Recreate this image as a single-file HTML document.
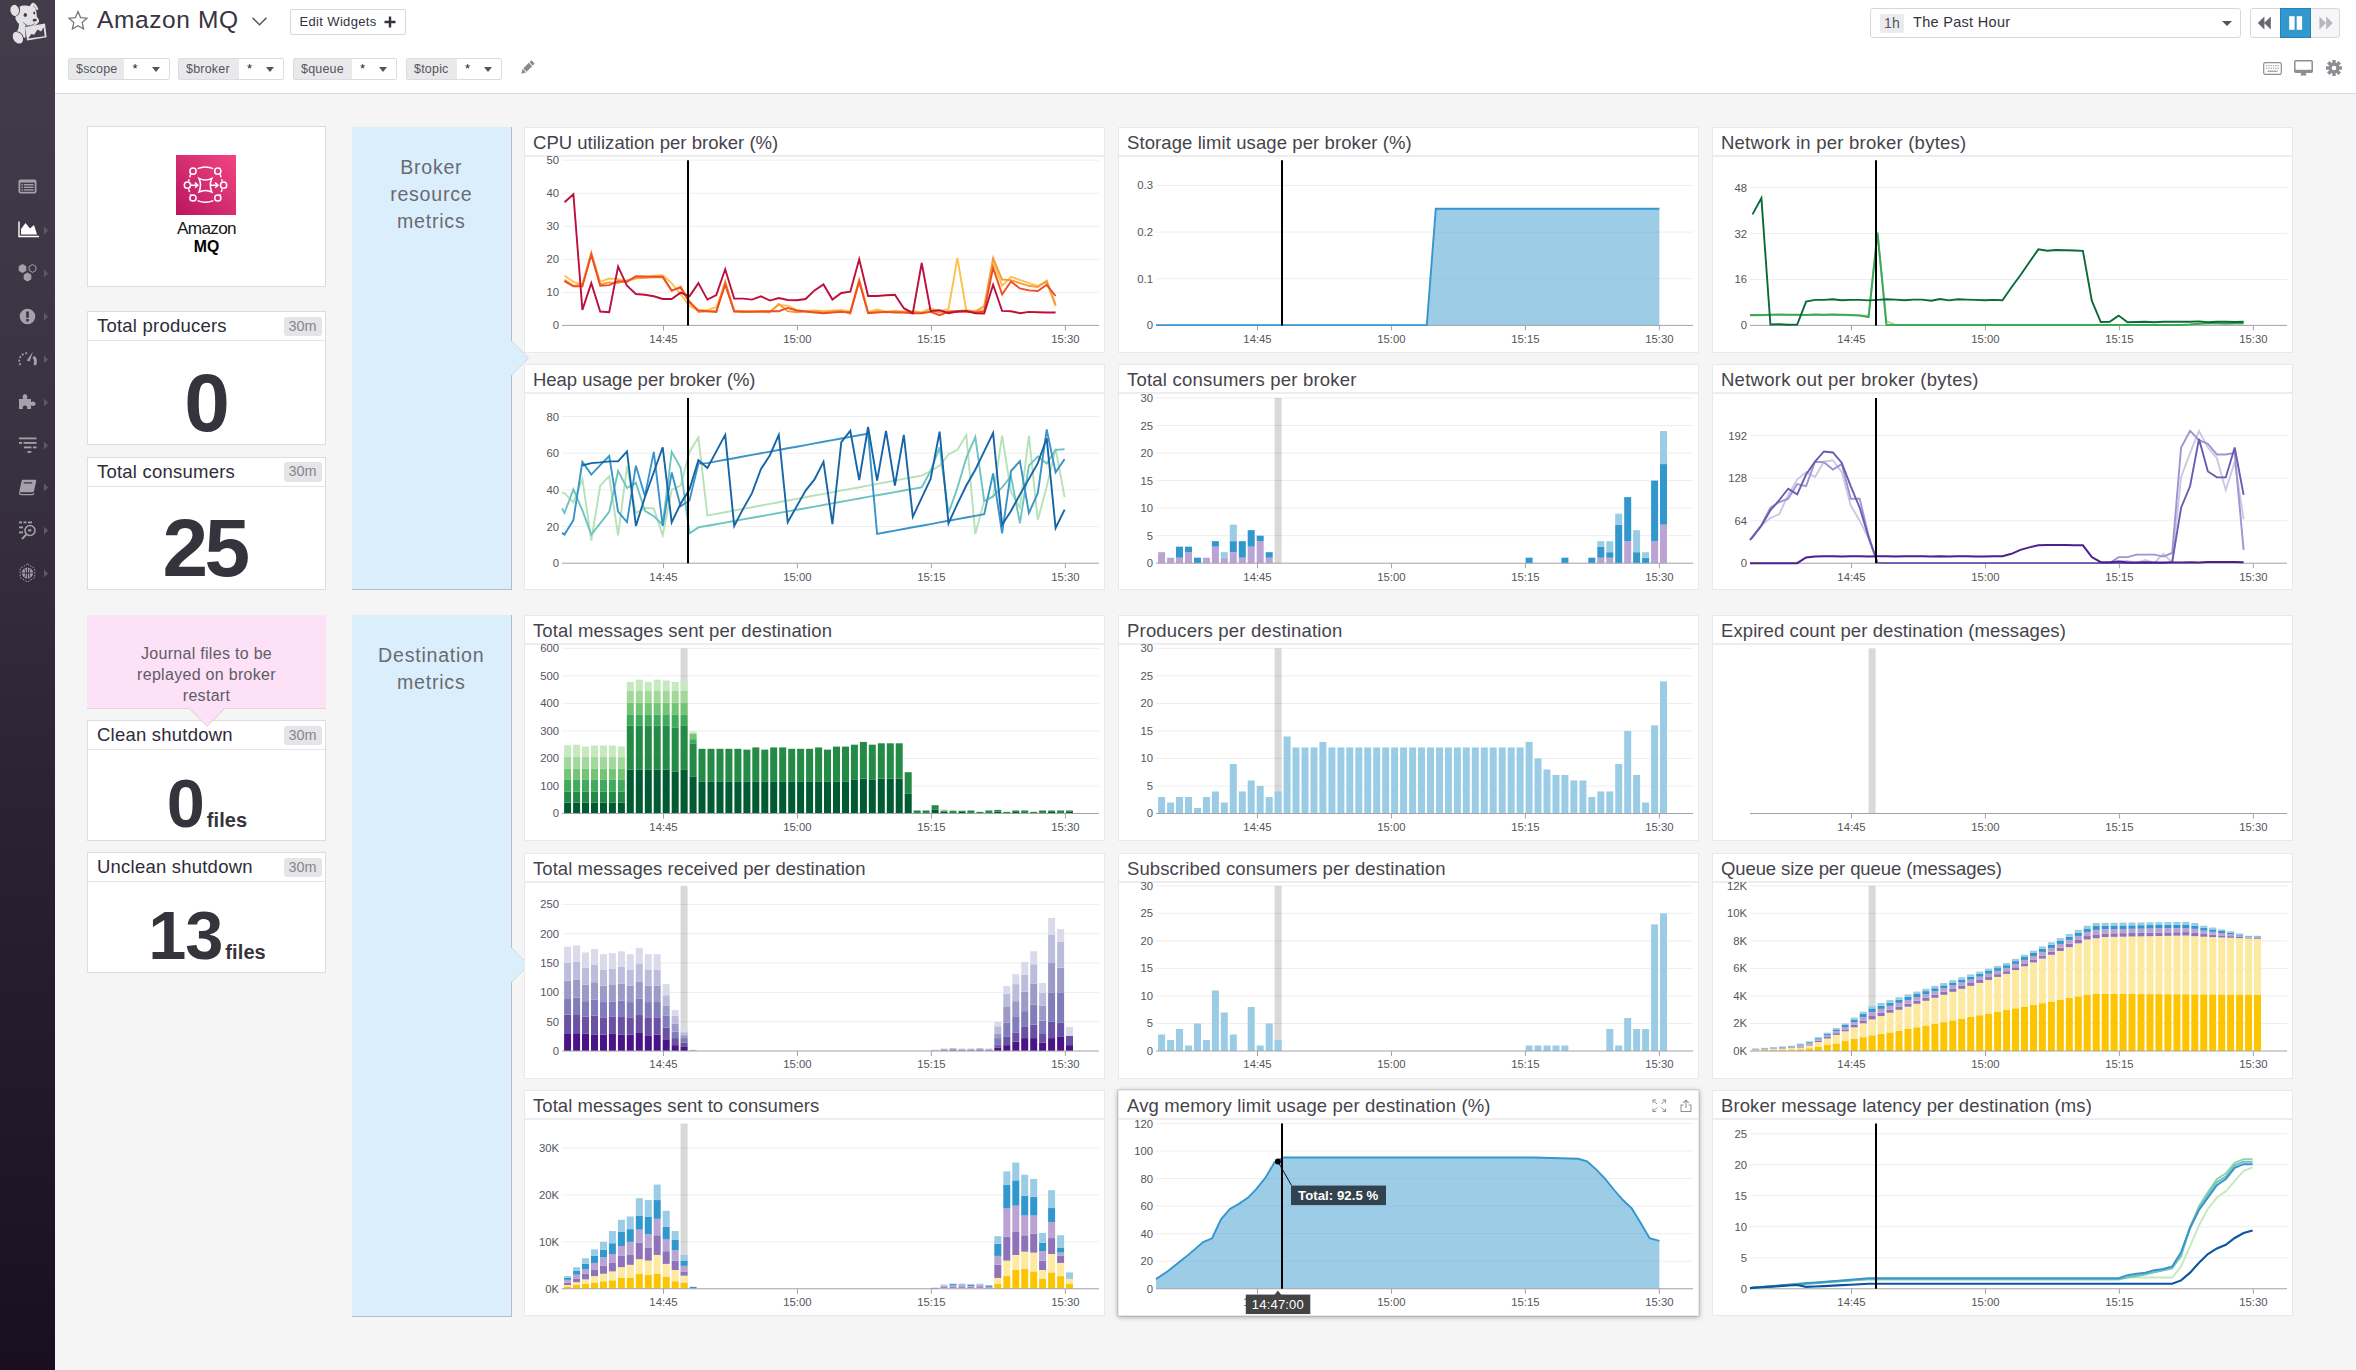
<!DOCTYPE html>
<html lang="en"><head><meta charset="utf-8"><title>Amazon MQ</title>
<style>
*{box-sizing:border-box}
html,body{margin:0;padding:0}
body{width:2356px;height:1370px;position:relative;overflow:hidden;background:#f5f5f5;font-family:"Liberation Sans",sans-serif;color:#3c3a44}
#side{position:absolute;left:0;top:0;width:55px;height:1370px;background:linear-gradient(180deg,#423c4b 0%,#3a3342 30%,#2b2231 60%,#1a0f1f 100%)}
#side svg{position:absolute}
#head{position:absolute;left:55px;top:0;width:2301px;height:94px;background:#fff;border-bottom:1px solid #dcdce0}
.abs{position:absolute}
.card{position:absolute;background:#fff;border:1px solid #e9e9ec}
.card .ct{position:absolute;left:0;top:0;right:0;height:29px;border-bottom:2px solid #ededf0;padding-left:8px;font-size:18.5px;line-height:29px;color:#45444c;white-space:nowrap;letter-spacing:0.14px}
.card svg.plot{position:absolute;left:-1px;top:-1px}
.al{font-family:"Liberation Sans",sans-serif;font-size:11.3px;fill:#55555c}
.qv{position:absolute;background:#fff;border:1px solid #dddde1}
.qv .ct{position:absolute;left:0;top:0;right:0;height:29px;border-bottom:1px solid #e4e4e8;padding-left:9px;font-size:18.5px;line-height:28px;color:#2e2c37;white-space:nowrap;letter-spacing:0.22px}
.qv .bd{position:absolute;right:3.5px;top:4.5px;width:38px;height:19.5px;border-radius:3px;background:#e5e5e7;color:#85858c;font-size:14.4px;line-height:19.5px;text-align:center;letter-spacing:0px}
.qv .num{position:absolute;left:0;right:0;text-align:center;font-weight:bold;color:#35333b;white-space:nowrap}
.grp{position:absolute;background:#daeffb;border-right:1px solid #b9bcc2;border-bottom:1px solid #b9bcc2;color:#6a6a72;font-size:19.6px;line-height:27px;text-align:center;letter-spacing:0.75px}
.tv{position:absolute;top:58px;height:22px;border:1px solid #dcdce0;border-radius:2px;background:#fff;font-size:12.5px;line-height:20px;color:#55545c}
.tv .l{position:absolute;left:0;top:0;bottom:0;background:#e9e9ec;padding-left:7px;letter-spacing:0.2px}
.tv .s{position:absolute;top:0px;font-size:13px;color:#222}
.hov{box-shadow:0 0 0 1px rgba(0,0,0,0.07),0 1px 5px rgba(0,0,0,0.34);z-index:2}
.tv .c{position:absolute;top:8px;width:0;height:0;border-left:4.5px solid transparent;border-right:4.5px solid transparent;border-top:5px solid #55545c}
</style></head><body>
<div id="side">
<svg style="left:0;top:0" width="55" height="50" viewBox="0 0 55 50">
<g fill="#e2e1e5">
<ellipse cx="14.7" cy="10.4" rx="4.3" ry="5.6" transform="rotate(-12 14.7 10.4)"/>
<path d="M19.6 6.6 C21 5.6 23.5 5.3 25.4 5.5 C27 5.4 28.6 5.8 29.8 6.2 C30.4 5 31.2 3.8 32 3.3 C32.6 2.8 33.3 2.7 33.8 2.9 C34.7 3.3 35.5 4 36 4.7 C37 6 38 8 38.4 9.5 L37.1 10 C36.5 9.8 35.8 9.5 35.3 9.1 C35.9 10 36.3 11 36.4 12 C36.7 13.5 36.6 15 36.8 16.4 C37.5 17.5 38.5 18.6 38.9 19.7 C39.2 20.7 39.1 21.8 38.6 22.6 C38 23.4 37.2 24 36.4 24.5 C35.2 25.2 34 25.6 32.7 25.9 C31.4 26.3 30 26.4 28.7 26.3 C27.6 26.2 26.4 25.9 25.4 25.5 L24.9 27.2 L25.6 37.3 L24 38 C23.5 36.5 22 34.5 20.5 33 C19.5 32.3 18 31.8 16.6 31.8 C17.6 30.4 18.4 29 18.6 27.7 C18.9 26.4 18.9 25 18.9 23.7 C17.4 22.5 16.2 20.8 15.6 19 C15.3 17.8 15.5 16.9 15.9 16.1 C17.5 15.5 19.2 13.8 19.6 11.5 C19.9 9.8 19.8 8 19.6 6.6 Z"/>
<ellipse cx="17.9" cy="37.7" rx="4.7" ry="6.3" transform="rotate(-32 17.9 37.7)"/>
<path d="M24.9 27 L45 23.4 L46.6 37.2 L27.1 40.5 Z"/>
</g>
<g fill="#433d4c">
<path d="M28.2 38.5 L31.3 33.9 L34.2 34.7 L37.5 29.6 L41.1 31.4 L43.6 27.2 L44.7 36.2 Z"/>
<path d="M33.2 6.2 C33.8 5.2 34.4 5.6 34.9 6.6 L36.2 9 L35.3 8.4 Z" opacity="0.45"/>
<ellipse cx="25.3" cy="15" rx="1.7" ry="1.9" transform="rotate(20 25.3 15)"/>
<ellipse cx="34.2" cy="13.1" rx="0.9" ry="1.5" transform="rotate(-15 34.2 13.1)"/>
<ellipse cx="34.7" cy="20.2" rx="2.1" ry="1.35" transform="rotate(-8 34.7 20.2)"/>
</g>
<path d="M23.2 22.3 C24.8 24.2 26.6 25.6 28.8 25.7 C31 25.8 33.2 25 34.6 23.3" stroke="#433d4c" stroke-width="0.7" fill="none"/>
<path d="M16.8 31.9 C19 31.6 21.4 33.2 22.8 35.8" stroke="#433d4c" stroke-width="0.6" fill="none"/>
<path d="M19.2 7.5 C19.8 9.5 19.8 12 18.8 13.8 C18.2 14.8 17.2 15.6 16.2 15.9" stroke="#433d4c" stroke-width="0.6" fill="none"/>
</svg>
<svg style="left:18px;top:179px" width="20" height="16" viewBox="0 0 20 16"><rect x="0.5" y="0.5" width="18" height="14" rx="2" fill="#a5a1ab"/><rect x="2.3" y="3.6" width="14.4" height="9.2" fill="#3f3948"/><g fill="#a5a1ab"><rect x="3.5" y="5" width="1.6" height="1.4"/><rect x="6" y="5" width="9.5" height="1.4"/><rect x="3.5" y="7.6" width="1.6" height="1.4"/><rect x="6" y="7.6" width="9.5" height="1.4"/><rect x="3.5" y="10.2" width="1.6" height="1.4"/><rect x="6" y="10.2" width="9.5" height="1.4"/></g></svg>
<svg style="left:18px;top:221px" width="22" height="17" viewBox="0 0 22 17"><path d="M1 0.5 V15.5 H21" stroke="#fff" stroke-width="1.4" fill="none"/><path d="M3 13.5 V8 L7.5 2 L12 7.5 L16 4 L19 13.5 Z" fill="#fff"/></svg>
<svg style="left:43px;top:226px" width="6" height="9" viewBox="0 0 6 9"><path d="M1 0.5 L5 4.5 L1 8.5 Z" fill="#5f5968"/></svg>
<svg style="left:17px;top:263px" width="22" height="20" viewBox="0 0 22 20"><polygon points="9.3,7.7 5.5,9.9 1.7,7.7 1.7,3.3 5.5,1.1 9.3,3.3" fill="#a5a1ab" stroke="none" stroke-width="1"/><polygon points="18.9,7.4 15.5,9.4 12.1,7.4 12.1,3.5 15.5,1.6 18.9,3.5" fill="none" stroke="#a5a1ab" stroke-width="1"/><polygon points="14.3,16.2 10.5,18.4 6.7,16.2 6.7,11.8 10.5,9.6 14.3,11.8" fill="#a5a1ab" stroke="none" stroke-width="1"/></svg>
<svg style="left:43px;top:269px" width="6" height="9" viewBox="0 0 6 9"><path d="M1 0.5 L5 4.5 L1 8.5 Z" fill="#5f5968"/></svg>
<svg style="left:19px;top:307.5px" width="17" height="17" viewBox="0 0 17 17"><circle cx="8.5" cy="8.5" r="7.8" fill="#a5a1ab"/><rect x="7.2" y="3.5" width="2.6" height="6.3" fill="#3a3342"/><rect x="7.2" y="11" width="2.6" height="2.5" fill="#3a3342"/></svg>
<svg style="left:43px;top:312px" width="6" height="9" viewBox="0 0 6 9"><path d="M1 0.5 L5 4.5 L1 8.5 Z" fill="#5f5968"/></svg>
<svg style="left:18px;top:350px" width="20" height="17" viewBox="0 0 20 17"><path d="M2.4 15 A7.8 7.8 0 0 1 9.6 3.2" stroke="#a5a1ab" stroke-width="1.7" fill="none" stroke-dasharray="1.9 1.7"/><path d="M15.6 6.6 A7.8 7.8 0 0 1 16.6 15" stroke="#a5a1ab" stroke-width="2.8" fill="none"/><path d="M15 1.6 L11.6 11.6 L8.8 10.4 Z" fill="#a5a1ab"/></svg>
<svg style="left:43px;top:355px" width="6" height="9" viewBox="0 0 6 9"><path d="M1 0.5 L5 4.5 L1 8.5 Z" fill="#5f5968"/></svg>
<svg style="left:18px;top:393px" width="20" height="17" viewBox="0 0 20 17"><path d="M1 6 H5.2 C4 3.5 5 1.2 7 1.2 C9 1.2 10 3.5 8.8 6 H13 V9 C15.2 7.8 17.6 8.8 17.6 10.8 C17.6 12.8 15.2 13.4 13 12.4 V16 H9 C9.8 13.8 8.6 12.6 7 12.6 C5.4 12.6 4.2 13.8 5 16 H1 Z" fill="#a5a1ab"/></svg>
<svg style="left:43px;top:398px" width="6" height="9" viewBox="0 0 6 9"><path d="M1 0.5 L5 4.5 L1 8.5 Z" fill="#5f5968"/></svg>
<svg style="left:18px;top:436.5px" width="20" height="17" viewBox="0 0 20 17"><g fill="#a5a1ab"><rect x="1" y="0.5" width="17.5" height="1.8"/><rect x="1" y="5" width="3" height="1.8"/><rect x="5.5" y="5" width="13" height="1.8"/><rect x="6" y="9.5" width="7.5" height="1.8"/><rect x="15" y="9.5" width="3.5" height="1.8"/><rect x="9.5" y="14" width="3.8" height="1.8"/></g></svg>
<svg style="left:43px;top:440.5px" width="6" height="9" viewBox="0 0 6 9"><path d="M1 0.5 L5 4.5 L1 8.5 Z" fill="#5f5968"/></svg>
<svg style="left:18px;top:479px" width="20" height="17" viewBox="0 0 20 17"><path d="M5 0.8 H17 Q18.5 0.8 18.2 2.2 L16 12 Q15.7 13.2 14.5 13.2 H2.5 Q1 13.2 1.4 11.8 L3.6 2 Q4 0.8 5 0.8 Z" fill="#a5a1ab"/><path d="M1.4 13.4 Q1.5 15.6 3.5 15.6 H14.2 Q15.6 15.6 16 14.2" stroke="#a5a1ab" stroke-width="1.2" fill="none"/><rect x="6.5" y="3.2" width="8.5" height="1.3" fill="#3a3342" transform="skewX(-12)"/></svg>
<svg style="left:43px;top:483px" width="6" height="9" viewBox="0 0 6 9"><path d="M1 0.5 L5 4.5 L1 8.5 Z" fill="#5f5968"/></svg>
<svg style="left:18px;top:521px" width="20" height="19" viewBox="0 0 20 19"><g fill="#a5a1ab"><rect x="1" y="0.5" width="3" height="1.8"/><rect x="5.5" y="0.5" width="3" height="1.8"/><rect x="10" y="0.5" width="4" height="1.8"/><rect x="1" y="5.5" width="4" height="1.8"/><rect x="1" y="10.5" width="4" height="1.8"/></g><circle cx="12" cy="9.5" r="5" fill="none" stroke="#a5a1ab" stroke-width="1.6"/><path d="M8.4 13.4 L4.6 17.4" stroke="#a5a1ab" stroke-width="2" stroke-linecap="round"/><rect x="10" y="8.3" width="3.5" height="2.2" rx="1" fill="#a5a1ab"/></svg>
<svg style="left:43px;top:526px" width="6" height="9" viewBox="0 0 6 9"><path d="M1 0.5 L5 4.5 L1 8.5 Z" fill="#5f5968"/></svg>
<svg style="left:19px;top:563px" width="18" height="20" viewBox="0 0 18 20"><circle cx="8.5" cy="10" r="5.6" fill="#a5a1ab"/><path d="M8.5 4.4 V15.6 M3 10 H14 M5.8 5.5 Q8 10 5.8 14.5 M11.2 5.5 Q9 10 11.2 14.5" stroke="#2e2535" stroke-width="0.9" fill="none"/><path d="M8.5 1 L15.8 5.5 V14.5 L8.5 19 L1.2 14.5 V5.5 Z" fill="none" stroke="#a5a1ab" stroke-width="1" stroke-dasharray="1.6 1.4"/></svg>
<svg style="left:43px;top:569px" width="6" height="9" viewBox="0 0 6 9"><path d="M1 0.5 L5 4.5 L1 8.5 Z" fill="#5f5968"/></svg>
</div>
<div id="head">
<svg class="abs" style="left:12px;top:10px" width="22" height="20" viewBox="0 0 22 20"><path d="M11 1.6 L13.6 7.6 L20 8.2 L15.2 12.6 L16.6 19 L11 15.7 L5.4 19 L6.8 12.6 L2 8.2 L8.4 7.6 Z" fill="none" stroke="#77767e" stroke-width="1.3" stroke-linejoin="miter"/></svg>
<div class="abs" style="left:42px;top:4px;font-size:24.5px;line-height:32px;color:#3a3340;letter-spacing:0.6px;white-space:nowrap">Amazon MQ</div>
<svg class="abs" style="left:196px;top:16px" width="17" height="11" viewBox="0 0 17 11"><path d="M1.5 1.8 L8.5 8.8 L15.5 1.8" fill="none" stroke="#55535c" stroke-width="1.5"/></svg>
<div class="abs" style="left:234.5px;top:9px;width:116px;height:26px;border:1px solid #d8d8dc;border-radius:2px;font-size:13px;line-height:24px;color:#34323c;padding-left:9px;letter-spacing:0.35px;white-space:nowrap">Edit Widgets<svg class="abs" style="left:93px;top:6px" width="12" height="12" viewBox="0 0 12 12"><path d="M6 0.5 V11.5 M0.5 6 H11.5" stroke="#34323c" stroke-width="2.4"/></svg></div>
<div class="tv" style="left:13px;width:101.5px"><div class="l" style="width:55px">$scope</div><div class="s" style="left:63.5px">*</div><div class="c" style="left:82.5px"></div></div>
<div class="tv" style="left:123px;width:106px"><div class="l" style="width:59.5px">$broker</div><div class="s" style="left:68.0px">*</div><div class="c" style="left:87.0px"></div></div>
<div class="tv" style="left:238px;width:104px"><div class="l" style="width:57.5px">$queue</div><div class="s" style="left:66.0px">*</div><div class="c" style="left:85.0px"></div></div>
<div class="tv" style="left:351px;width:96px"><div class="l" style="width:49.5px">$topic</div><div class="s" style="left:58.0px">*</div><div class="c" style="left:77.0px"></div></div>
<svg class="abs" style="left:464px;top:60px" width="16" height="16" viewBox="0 0 16 16"><g transform="rotate(45 8 8)"><rect x="5.6" y="-0.5" width="4.8" height="2.6" rx="0.8" fill="#8a8990"/><rect x="5.6" y="3" width="4.8" height="8" fill="#8a8990"/><path d="M5.6 11.8 H10.4 L8 16.2 Z" fill="#8a8990"/></g></svg>
<div class="abs" style="left:1815px;top:8px;width:371px;height:30px;border:1px solid #d8d8dc;border-radius:3px;background:#fff"></div>
<div class="abs" style="left:1825px;top:13.5px;width:24px;height:19px;border-radius:2px;background:#ebebed;font-size:14px;line-height:19px;text-align:center;color:#55545c;letter-spacing:0.3px">1h</div>
<div class="abs" style="left:1858px;top:13px;font-size:14.5px;line-height:19px;color:#34323c;letter-spacing:0.3px;white-space:nowrap">The Past Hour</div>
<div class="abs" style="left:2167px;top:20.5px;width:0;height:0;border-left:5px solid transparent;border-right:5px solid transparent;border-top:5.5px solid #55545c"></div>
<div class="abs" style="left:2195px;top:8px;width:90px;height:30px;border:1px solid #d8d8dc;border-radius:3px;background:linear-gradient(90deg,#fff 0,#fff 40%,#f6f6f7 40%,#f6f6f7 100%)"></div>
<div class="abs" style="left:2225px;top:8px;width:31px;height:30px;background:#3398cd;border:1px solid #2283ba"></div>
<svg class="abs" style="left:2202px;top:16px" width="16" height="14" viewBox="0 0 16 14"><path d="M7.4 0.4 V13.6 L0.8 7 Z M13.8 0.4 V13.6 L7.2 7 Z" fill="#68676d"/></svg>
<svg class="abs" style="left:2234px;top:16px" width="14" height="14" viewBox="0 0 14 14"><rect x="0.2" y="0.2" width="5.4" height="13.6" fill="#fff"/><rect x="7.7" y="0.2" width="5.4" height="13.6" fill="#fff"/></svg>
<svg class="abs" style="left:2263px;top:16px" width="16" height="14" viewBox="0 0 16 14"><path d="M1.4 0.4 V13.6 L8 7 Z M8.2 0.4 V13.6 L14.8 7 Z" fill="#b9b7be"/></svg>
<svg class="abs" style="left:2208px;top:62px" width="19" height="13" viewBox="0 0 19 13"><rect x="0.7" y="0.7" width="17.6" height="11.6" rx="1.6" fill="none" stroke="#8e8d95" stroke-width="1.2"/><path d="M3 3.8 H16 M3 6.3 H16" stroke="#8e8d95" stroke-width="1.1" stroke-dasharray="1.3 1"/><path d="M4.5 9.2 H14.5" stroke="#8e8d95" stroke-width="1.1"/></svg>
<svg class="abs" style="left:2239px;top:60px" width="19" height="17" viewBox="0 0 19 17"><rect x="0.8" y="0.8" width="17.4" height="11.4" rx="1" fill="none" stroke="#8e8d95" stroke-width="1.5"/><rect x="0.8" y="9.8" width="17.4" height="2.4" fill="#8e8d95"/><path d="M7.5 12.2 L6.5 15.6 H12.5 L11.5 12.2 Z" fill="#8e8d95"/></svg>
<svg class="abs" style="left:2271px;top:60px" width="16" height="16" viewBox="0 0 16 16"><rect x="6.3" y="-0.2" width="3.4" height="4" fill="#8e8d95" transform="rotate(0 8 8)"/><rect x="6.3" y="-0.2" width="3.4" height="4" fill="#8e8d95" transform="rotate(45 8 8)"/><rect x="6.3" y="-0.2" width="3.4" height="4" fill="#8e8d95" transform="rotate(90 8 8)"/><rect x="6.3" y="-0.2" width="3.4" height="4" fill="#8e8d95" transform="rotate(135 8 8)"/><rect x="6.3" y="-0.2" width="3.4" height="4" fill="#8e8d95" transform="rotate(180 8 8)"/><rect x="6.3" y="-0.2" width="3.4" height="4" fill="#8e8d95" transform="rotate(225 8 8)"/><rect x="6.3" y="-0.2" width="3.4" height="4" fill="#8e8d95" transform="rotate(270 8 8)"/><rect x="6.3" y="-0.2" width="3.4" height="4" fill="#8e8d95" transform="rotate(315 8 8)"/><circle cx="8" cy="8" r="5.4" fill="#8e8d95"/><circle cx="8" cy="8" r="2.3" fill="#fff"/></svg>
</div>
<div class="qv" style="left:87px;top:126px;width:239px;height:160.5px">
<svg class="abs" style="left:88px;top:28px" width="60" height="60" viewBox="0 0 60 60"><defs><linearGradient id="pg" x1="0" y1="1" x2="1" y2="0"><stop offset="0" stop-color="#b91560"/><stop offset="1" stop-color="#f24682"/></linearGradient></defs><rect width="60" height="60" fill="url(#pg)"/>
<g fill="none" stroke="#fff" stroke-width="1.5">
<circle cx="17" cy="16.2" r="3.1"/><circle cx="41.8" cy="16.2" r="3.1"/><circle cx="11.4" cy="30.2" r="3.1"/><circle cx="47.6" cy="30.2" r="3.1"/><circle cx="17" cy="43" r="3.1"/><circle cx="41.8" cy="43" r="3.1"/>
<path d="M21.5 13.6 Q29.4 10.4 37.3 13.6"/><path d="M21.5 45.6 Q29.4 48.8 37.3 45.6"/>
<path d="M14.6 19.4 L12.6 26.2 M12.6 34.2 L14.6 39.8 M44.2 19.4 L46.2 26.2 M46.2 34.2 L44.2 39.8" stroke-dasharray="3 2"/>
<path d="M23 23.4 Q29.4 26.6 35.8 23.4 Q32.8 30.2 35.8 37 Q29.4 33.8 23 37 Q26 30.2 23 23.4 Z"/>
<path d="M14.6 30.2 H21.4 M19 27.6 L21.8 30.2 L19 32.8"/><path d="M35 30.2 H41.6 M39.2 27.6 L42 30.2 L39.2 32.8"/>
</g></svg>
<div class="abs" style="left:0;right:0;top:92px;text-align:center;font-size:17.2px;line-height:18px;color:#161616;letter-spacing:-0.7px">Amazon</div>
<div class="abs" style="left:0;right:0;top:110.5px;text-align:center;font-size:15.8px;line-height:18px;color:#000;font-weight:bold;letter-spacing:0px">MQ</div>
</div>
<div class="qv" style="left:87px;top:311px;width:239px;height:133.5px"><div class="ct">Total producers</div><div class="bd">30m</div>
<div class="num" style="top:49.5px;font-size:82px;line-height:82px;letter-spacing:-1px;padding-right:0px">0</div>
</div>
<div class="qv" style="left:87px;top:456.5px;width:239px;height:133px"><div class="ct">Total consumers</div><div class="bd">30m</div>
<div class="num" style="top:49.5px;font-size:82px;line-height:82px;letter-spacing:-3.5px;padding-right:4px">25</div>
</div>
<div class="abs" style="left:87px;top:614.5px;width:238.5px;height:94.5px;background:#fde1f6;border-bottom:1px solid #e8cfe2"></div>
<svg class="abs" style="left:188.5px;top:708px;z-index:5" width="36" height="19" viewBox="0 0 36 19"><path d="M0 0 H36 L18 18.3 Z" fill="#fde1f6"/><path d="M0.5 0.5 L18 18.3 L35.5 0.5" fill="none" stroke="#d9c6d6" stroke-width="0.9"/></svg>
<div class="abs" style="left:87px;top:644px;width:239px;text-align:center;font-size:16px;line-height:20.8px;color:#5d5c66;letter-spacing:0.3px">Journal files to be<br>replayed on broker<br>restart</div>
<div class="qv" style="left:87px;top:720px;width:239px;height:120.5px"><div class="ct">Clean shutdown</div><div class="bd">30m</div>
<div class="num" style="top:48.7px;font-size:68.5px;line-height:68.5px;letter-spacing:-1px;padding-left:1px">0<span style="font-size:20px;letter-spacing:0.1px;margin-left:3px">files</span></div>
</div>
<div class="qv" style="left:87px;top:852px;width:239px;height:120.5px"><div class="ct">Unclean shutdown</div><div class="bd">30m</div>
<div class="num" style="top:48.7px;font-size:68.5px;line-height:68.5px;letter-spacing:-1px;padding-left:1px">13<span style="font-size:20px;letter-spacing:0.1px;margin-left:3px">files</span></div>
</div>
<div class="grp" style="left:351.5px;top:126.5px;width:160.5px;height:463.5px;padding-top:27px">Broker<br>resource<br>metrics</div>
<svg class="abs" style="left:511px;top:340px" width="19" height="36" viewBox="0 0 19 36"><path d="M0 0.5 L17.5 18 L0 35.5 Z" fill="#daeffb"/><path d="M0.5 0.5 L17.5 18 L0.5 35.5" fill="none" stroke="#c9d3da" stroke-width="0.8"/></svg>
<div class="grp" style="left:351.5px;top:614.5px;width:160.5px;height:702px;padding-top:27.5px">Destination<br>metrics</div>
<svg class="abs" style="left:511px;top:947px" width="19" height="36" viewBox="0 0 19 36"><path d="M0 0.5 L17.5 18 L0 35.5 Z" fill="#daeffb"/><path d="M0.5 0.5 L17.5 18 L0.5 35.5" fill="none" stroke="#c9d3da" stroke-width="0.8"/></svg>
<div class="card " style="left:524px;top:127px;width:581px;height:226px"><div class="ct" style="letter-spacing:0.017px">CPU utilization per broker (%)</div><svg class="plot" width="581" height="226" viewBox="0 0 581 226"><g transform="translate(-0.5,-0.3)"><text x="35.5" y="202.7" text-anchor="end" class="al">0</text><line x1="38.5" x2="575.5" y1="165.7" y2="165.7" stroke="#eeeef0" stroke-width="1"/><text x="35.5" y="169.7" text-anchor="end" class="al">10</text><line x1="38.5" x2="575.5" y1="132.6" y2="132.6" stroke="#eeeef0" stroke-width="1"/><text x="35.5" y="136.6" text-anchor="end" class="al">20</text><line x1="38.5" x2="575.5" y1="99.6" y2="99.6" stroke="#eeeef0" stroke-width="1"/><text x="35.5" y="103.6" text-anchor="end" class="al">30</text><line x1="38.5" x2="575.5" y1="66.5" y2="66.5" stroke="#eeeef0" stroke-width="1"/><text x="35.5" y="70.5" text-anchor="end" class="al">40</text><line x1="38.5" x2="575.5" y1="33.5" y2="33.5" stroke="#eeeef0" stroke-width="1"/><text x="35.5" y="37.5" text-anchor="end" class="al">50</text><line x1="38.5" x2="575.5" y1="198.7" y2="198.7" stroke="#a3a3a8" stroke-width="1"/><line x1="140.0" x2="140.0" y1="198.7" y2="203.7" stroke="#a3a3a8" stroke-width="1"/><text x="140.0" y="216.0" text-anchor="middle" class="al">14:45</text><line x1="273.95" x2="273.95" y1="198.7" y2="203.7" stroke="#a3a3a8" stroke-width="1"/><text x="273.95" y="216.0" text-anchor="middle" class="al">15:00</text><line x1="407.9" x2="407.9" y1="198.7" y2="203.7" stroke="#a3a3a8" stroke-width="1"/><text x="407.9" y="216.0" text-anchor="middle" class="al">15:15</text><line x1="541.85" x2="541.85" y1="198.7" y2="203.7" stroke="#a3a3a8" stroke-width="1"/><text x="541.85" y="216.0" text-anchor="middle" class="al">15:30</text><polyline fill="none" stroke="#fcc24b" stroke-width="1.9" stroke-linejoin="miter" points="41.0,149.1 49.9,155.1 58.9,157.7 67.8,127.3 76.7,155.1 85.7,151.8 94.6,152.4 103.5,154.4 112.4,151.8 121.4,151.1 130.3,149.1 139.2,148.5 148.2,156.4 157.1,167.6 166.0,179.2 174.9,183.8 183.9,183.2 192.8,180.5 201.7,157.7 210.7,183.8 219.6,184.8 228.5,184.2 237.5,184.2 246.4,184.8 255.3,178.2 264.2,178.9 273.2,183.5 282.1,184.2 291.0,183.8 300.0,184.2 308.9,183.8 317.8,183.2 326.8,184.8 335.7,152.4 344.6,185.5 353.6,182.8 362.5,184.8 371.4,184.2 380.3,184.8 389.3,184.5 398.2,185.5 407.1,181.5 416.1,184.8 425.0,182.2 433.9,131.3 442.8,183.8 451.8,184.2 460.7,183.5 469.6,134.9 478.6,159.1 487.5,150.1 496.4,153.1 505.4,156.4 514.3,159.1 523.2,155.1 532.1,179.5"/><polyline fill="none" stroke="#f89a3a" stroke-width="1.9" stroke-linejoin="miter" points="41.0,153.1 49.9,159.1 58.9,157.7 67.8,126.0 76.7,157.7 85.7,155.7 94.6,156.4 103.5,153.8 112.4,151.1 121.4,151.1 130.3,150.5 139.2,150.5 148.2,164.3 157.1,159.7 166.0,174.3 174.9,185.2 183.9,184.5 192.8,184.5 201.7,154.4 210.7,184.5 219.6,185.5 228.5,184.5 237.5,185.2 246.4,185.5 255.3,177.2 264.2,184.5 273.2,185.5 282.1,184.8 291.0,184.5 300.0,185.5 308.9,184.8 317.8,184.2 326.8,186.8 335.7,153.8 344.6,185.8 353.6,184.8 362.5,185.5 371.4,184.8 380.3,185.5 389.3,185.2 398.2,186.1 407.1,184.2 416.1,185.5 425.0,184.5 433.9,184.2 442.8,183.8 451.8,184.8 460.7,179.5 469.6,131.3 478.6,152.8 487.5,153.4 496.4,156.4 505.4,159.1 514.3,160.4 523.2,154.1 532.1,178.2"/><polyline fill="none" stroke="#ee4e23" stroke-width="1.9" stroke-linejoin="miter" points="41.0,154.4 49.9,159.7 58.9,159.7 67.8,128.0 76.7,159.1 85.7,158.4 94.6,154.4 103.5,155.1 112.4,149.5 121.4,149.8 130.3,150.1 139.2,150.1 148.2,163.7 157.1,161.0 166.0,175.6 174.9,183.8 183.9,184.5 192.8,185.2 201.7,157.7 210.7,184.8 219.6,184.8 228.5,185.2 237.5,184.8 246.4,184.5 255.3,184.5 264.2,181.2 273.2,183.8 282.1,184.8 291.0,185.8 300.0,186.5 308.9,185.8 317.8,185.2 326.8,185.8 335.7,154.8 344.6,186.5 353.6,185.8 362.5,185.2 371.4,185.8 380.3,185.8 389.3,186.5 398.2,186.5 407.1,185.2 416.1,188.5 425.0,185.2 433.9,184.8 442.8,185.2 451.8,185.8 460.7,184.8 469.6,141.2 478.6,167.6 487.5,154.8 496.4,161.7 505.4,163.7 514.3,164.3 523.2,158.1 532.1,169.3"/><polyline fill="none" stroke="#bd0f3c" stroke-width="1.9" stroke-linejoin="miter" points="41.0,75.5 49.9,67.5 58.9,183.2 67.8,156.4 76.7,184.8 85.7,185.5 94.6,139.9 103.5,159.1 112.4,167.3 121.4,168.0 130.3,169.6 139.2,172.3 148.2,172.3 157.1,166.0 166.0,169.6 174.9,156.4 183.9,172.9 192.8,168.3 201.7,142.5 210.7,171.9 219.6,171.9 228.5,172.9 237.5,169.6 246.4,173.9 255.3,171.3 264.2,173.3 273.2,173.6 282.1,172.3 291.0,163.7 300.0,157.7 308.9,172.9 317.8,166.3 326.8,165.0 335.7,132.6 344.6,169.3 353.6,169.3 362.5,168.6 371.4,168.0 380.3,181.5 389.3,186.5 398.2,136.3 407.1,184.2 416.1,183.5 425.0,186.5 433.9,184.8 442.8,184.2 451.8,186.5 460.7,186.8 469.6,158.1 478.6,184.2 487.5,184.5 496.4,186.5 505.4,185.2 514.3,185.5 523.2,185.8 532.1,185.8"/><line x1="164.5" x2="164.5" y1="33.5" y2="198.7" stroke="#000" stroke-width="2"/></g></svg></div>
<div class="card " style="left:1118px;top:127px;width:581px;height:226px"><div class="ct" style="letter-spacing:0.09px">Storage limit usage per broker (%)</div><svg class="plot" width="581" height="226" viewBox="0 0 581 226"><g transform="translate(-0.5,-0.3)"><text x="35.5" y="202.7" text-anchor="end" class="al">0</text><line x1="38.5" x2="575.5" y1="152.0" y2="152.0" stroke="#eeeef0" stroke-width="1"/><text x="35.5" y="156.0" text-anchor="end" class="al">0.1</text><line x1="38.5" x2="575.5" y1="105.4" y2="105.4" stroke="#eeeef0" stroke-width="1"/><text x="35.5" y="109.4" text-anchor="end" class="al">0.2</text><line x1="38.5" x2="575.5" y1="58.7" y2="58.7" stroke="#eeeef0" stroke-width="1"/><text x="35.5" y="62.7" text-anchor="end" class="al">0.3</text><path d="M309.3,198.7 L318.3,82.1 L541.9,82.1 L541.9,198.7 Z" fill="#3c9ad0" fill-opacity="0.5"/><line x1="38.5" x2="575.5" y1="198.7" y2="198.7" stroke="#a3a3a8" stroke-width="1"/><line x1="140.0" x2="140.0" y1="198.7" y2="203.7" stroke="#a3a3a8" stroke-width="1"/><text x="140.0" y="216.0" text-anchor="middle" class="al">14:45</text><line x1="273.95" x2="273.95" y1="198.7" y2="203.7" stroke="#a3a3a8" stroke-width="1"/><text x="273.95" y="216.0" text-anchor="middle" class="al">15:00</text><line x1="407.9" x2="407.9" y1="198.7" y2="203.7" stroke="#a3a3a8" stroke-width="1"/><text x="407.9" y="216.0" text-anchor="middle" class="al">15:15</text><line x1="541.85" x2="541.85" y1="198.7" y2="203.7" stroke="#a3a3a8" stroke-width="1"/><text x="541.85" y="216.0" text-anchor="middle" class="al">15:30</text><polyline fill="none" stroke="#3596cf" stroke-width="1.9" points="38.5,198.39999999999998 309.3,198.39999999999998 318.3,82.1 541.9,82.1"/><line x1="164.5" x2="164.5" y1="33.5" y2="198.7" stroke="#000" stroke-width="2"/></g></svg></div>
<div class="card " style="left:1712px;top:127px;width:581px;height:226px"><div class="ct" style="letter-spacing:0.238px">Network in per broker (bytes)</div><svg class="plot" width="581" height="226" viewBox="0 0 581 226"><g transform="translate(-0.5,-0.3)"><text x="35.5" y="202.7" text-anchor="end" class="al">0</text><line x1="38.5" x2="575.5" y1="152.8" y2="152.8" stroke="#eeeef0" stroke-width="1"/><text x="35.5" y="156.8" text-anchor="end" class="al">16</text><line x1="38.5" x2="575.5" y1="106.9" y2="106.9" stroke="#eeeef0" stroke-width="1"/><text x="35.5" y="110.9" text-anchor="end" class="al">32</text><line x1="38.5" x2="575.5" y1="61.0" y2="61.0" stroke="#eeeef0" stroke-width="1"/><text x="35.5" y="65.0" text-anchor="end" class="al">48</text><line x1="38.5" x2="575.5" y1="198.7" y2="198.7" stroke="#a3a3a8" stroke-width="1"/><line x1="140.0" x2="140.0" y1="198.7" y2="203.7" stroke="#a3a3a8" stroke-width="1"/><text x="140.0" y="216.0" text-anchor="middle" class="al">14:45</text><line x1="273.95" x2="273.95" y1="198.7" y2="203.7" stroke="#a3a3a8" stroke-width="1"/><text x="273.95" y="216.0" text-anchor="middle" class="al">15:00</text><line x1="407.9" x2="407.9" y1="198.7" y2="203.7" stroke="#a3a3a8" stroke-width="1"/><text x="407.9" y="216.0" text-anchor="middle" class="al">15:15</text><line x1="541.85" x2="541.85" y1="198.7" y2="203.7" stroke="#a3a3a8" stroke-width="1"/><text x="541.85" y="216.0" text-anchor="middle" class="al">15:30</text><polyline fill="none" stroke="#a9dca3" stroke-width="1.9" stroke-linejoin="miter" points="38.5,188.9 41.0,188.9 49.9,188.7 58.9,188.4 67.8,188.4 76.7,188.4 85.7,188.4 94.6,188.4 103.5,188.1 112.4,188.4 121.4,188.1 130.3,188.4 139.2,188.7 148.2,188.7 157.1,188.9 166.0,106.9 174.9,194.4 183.9,198.1 192.8,198.4 201.7,198.4 210.7,198.4 219.6,198.4 228.5,198.4 237.5,198.4 246.4,198.4 255.3,198.4 264.2,198.4 273.2,198.4 282.1,198.4 291.0,198.4 300.0,198.4 308.9,198.4 317.8,198.4 326.8,198.4 335.7,198.4 344.6,198.4 353.6,198.4 362.5,198.4 371.4,198.4 380.3,198.4 389.3,198.4 398.2,198.4 407.1,198.4 416.1,198.4 425.0,198.4 433.9,198.4 442.8,198.4 451.8,198.4 460.7,198.4 469.6,198.4 478.6,198.1 487.5,197.6 496.4,197.3 505.4,197.3 514.3,197.3 523.2,197.3 532.1,197.3"/><polyline fill="none" stroke="#3da85a" stroke-width="2.0" stroke-linejoin="miter" points="38.5,188.4 41.0,188.4 49.9,188.4 58.9,188.1 67.8,187.8 76.7,188.1 85.7,188.1 94.6,188.4 103.5,187.8 112.4,188.1 121.4,187.8 130.3,188.1 139.2,188.4 148.2,188.7 157.1,190.4 166.0,105.8 174.9,198.1 183.9,198.4 192.8,198.4 201.7,198.4 210.7,198.4 219.6,198.4 228.5,198.4 237.5,198.4 246.4,198.4 255.3,198.4 264.2,198.4 273.2,198.4 282.1,198.4 291.0,198.4 300.0,198.4 308.9,198.4 317.8,198.4 326.8,198.4 335.7,198.4 344.6,198.4 353.6,198.4 362.5,198.4 371.4,198.4 380.3,198.4 389.3,198.4 398.2,198.4 407.1,198.4 416.1,198.4 425.0,198.4 433.9,198.4 442.8,198.4 451.8,198.4 460.7,198.4 469.6,198.4 478.6,197.8 487.5,197.0 496.4,196.4 505.4,196.4 514.3,196.7 523.2,196.4 532.1,196.4"/><polyline fill="none" stroke="#0a6b37" stroke-width="1.9" stroke-linejoin="miter" points="41.0,87.7 49.9,71.4 58.9,197.8 67.8,197.6 76.7,198.1 85.7,197.8 94.6,174.9 103.5,173.2 112.4,173.2 121.4,172.6 130.3,173.5 139.2,173.2 148.2,173.2 157.1,173.7 166.0,173.2 174.9,172.6 183.9,172.9 192.8,173.5 201.7,172.9 210.7,172.9 219.6,174.0 228.5,172.3 237.5,173.7 246.4,172.6 255.3,172.9 264.2,173.2 273.2,173.5 282.1,173.2 291.0,173.5 300.0,160.6 308.9,148.5 317.8,135.6 326.8,122.7 335.7,124.1 344.6,123.3 353.6,123.6 362.5,123.8 371.4,124.1 380.3,174.0 389.3,195.3 398.2,195.0 407.1,188.9 416.1,195.5 425.0,195.3 433.9,195.0 442.8,195.5 451.8,195.0 460.7,195.0 469.6,195.0 478.6,195.0 487.5,194.7 496.4,195.5 505.4,195.0 514.3,195.0 523.2,195.3 532.1,195.0"/><line x1="164.5" x2="164.5" y1="33.5" y2="198.7" stroke="#000" stroke-width="2"/></g></svg></div>
<div class="card " style="left:524px;top:364px;width:581px;height:226px"><div class="ct" style="letter-spacing:-0.027px">Heap usage per broker (%)</div><svg class="plot" width="581" height="226" viewBox="0 0 581 226"><g transform="translate(-0.5,0.5)"><text x="35.5" y="202.7" text-anchor="end" class="al">0</text><line x1="38.5" x2="575.5" y1="162.0" y2="162.0" stroke="#eeeef0" stroke-width="1"/><text x="35.5" y="166.0" text-anchor="end" class="al">20</text><line x1="38.5" x2="575.5" y1="125.4" y2="125.4" stroke="#eeeef0" stroke-width="1"/><text x="35.5" y="129.4" text-anchor="end" class="al">40</text><line x1="38.5" x2="575.5" y1="88.7" y2="88.7" stroke="#eeeef0" stroke-width="1"/><text x="35.5" y="92.7" text-anchor="end" class="al">60</text><line x1="38.5" x2="575.5" y1="52.0" y2="52.0" stroke="#eeeef0" stroke-width="1"/><text x="35.5" y="56.0" text-anchor="end" class="al">80</text><line x1="38.5" x2="575.5" y1="198.7" y2="198.7" stroke="#a3a3a8" stroke-width="1"/><line x1="140.0" x2="140.0" y1="198.7" y2="203.7" stroke="#a3a3a8" stroke-width="1"/><text x="140.0" y="216.0" text-anchor="middle" class="al">14:45</text><line x1="273.95" x2="273.95" y1="198.7" y2="203.7" stroke="#a3a3a8" stroke-width="1"/><text x="273.95" y="216.0" text-anchor="middle" class="al">15:00</text><line x1="407.9" x2="407.9" y1="198.7" y2="203.7" stroke="#a3a3a8" stroke-width="1"/><text x="407.9" y="216.0" text-anchor="middle" class="al">15:15</text><line x1="541.85" x2="541.85" y1="198.7" y2="203.7" stroke="#a3a3a8" stroke-width="1"/><text x="541.85" y="216.0" text-anchor="middle" class="al">15:30</text><polyline fill="none" stroke="#b5e2b6" stroke-width="1.9" stroke-linejoin="miter" points="38.5,128.1 41.0,128.7 49.9,138.0 58.9,114.4 67.8,176.0 76.7,121.1 85.7,111.6 94.6,170.8 103.5,101.9 112.4,148.5 121.4,143.5 130.3,143.9 139.2,170.8 148.2,125.4 157.1,121.1 166.0,87.4 174.9,72.9 183.9,151.0 192.8,149.4 201.7,147.7 210.7,146.0 219.6,144.4 228.5,142.7 237.5,141.0 246.4,139.4 255.3,137.7 264.2,136.0 273.2,134.4 282.1,132.7 291.0,131.0 300.0,129.4 308.9,127.7 317.8,126.0 326.8,124.4 335.7,122.7 344.6,121.1 353.6,119.4 362.5,117.7 371.4,116.1 380.3,114.4 389.3,112.7 398.2,111.1 407.1,106.5 416.1,101.2 425.0,90.0 433.9,85.4 442.8,70.4 451.8,169.4 460.7,136.5 469.6,132.7 478.6,71.1 487.5,127.4 496.4,143.1 505.4,71.1 514.3,155.6 523.2,122.2 532.1,84.1 541.1,132.7"/><polyline fill="none" stroke="#6ec4c1" stroke-width="1.9" stroke-linejoin="miter" points="38.5,143.7 41.0,148.5 49.9,124.8 58.9,145.9 67.8,170.1 76.7,158.9 85.7,147.4 94.6,106.5 103.5,123.5 112.4,118.2 121.4,146.4 130.3,151.8 139.2,160.2 148.2,87.4 157.1,103.2 166.0,168.8 174.9,162.9 183.9,161.3 192.8,159.7 201.7,158.1 210.7,156.5 219.6,154.9 228.5,153.3 237.5,151.7 246.4,150.1 255.3,148.5 264.2,146.9 273.2,145.3 282.1,143.7 291.0,142.1 300.0,140.5 308.9,138.9 317.8,137.2 326.8,135.6 335.7,134.0 344.6,132.4 353.6,130.8 362.5,129.2 371.4,127.6 380.3,126.0 389.3,124.4 398.2,122.8 407.1,106.5 416.1,82.8 425.0,148.5 433.9,123.5 442.8,93.3 451.8,72.4 460.7,136.5 469.6,131.8 478.6,122.8 487.5,111.6 496.4,158.9 505.4,101.2 514.3,92.0 523.2,99.1 532.1,85.4 541.1,84.8"/><polyline fill="none" stroke="#3a94c8" stroke-width="1.9" stroke-linejoin="miter" points="38.5,168.4 41.0,170.1 49.9,155.6 58.9,97.3 67.8,110.1 76.7,100.6 85.7,91.6 94.6,147.2 103.5,157.6 112.4,101.2 121.4,131.4 130.3,87.4 139.2,161.5 148.2,107.9 157.1,141.7 166.0,136.0 174.9,99.1 183.9,98.6 192.8,96.9 201.7,95.3 210.7,93.7 219.6,92.0 228.5,90.4 237.5,88.8 246.4,87.1 255.3,85.5 264.2,83.8 273.2,82.2 282.1,80.6 291.0,78.9 300.0,77.3 308.9,75.6 317.8,74.0 326.8,72.4 335.7,70.7 344.6,69.1 353.6,169.4 362.5,167.7 371.4,166.1 380.3,164.5 389.3,162.8 398.2,161.2 407.1,159.6 416.1,157.9 425.0,156.3 433.9,154.6 442.8,153.0 451.8,151.4 460.7,149.7 469.6,109.0 478.6,168.8 487.5,106.5 496.4,96.6 505.4,148.5 514.3,128.7 523.2,65.0 532.1,107.8 541.1,94.6"/><polyline fill="none" stroke="#1565a8" stroke-width="1.9" stroke-linejoin="miter" points="58.9,101.0 67.8,98.6 76.7,97.9 85.7,96.9 94.6,96.9 103.5,86.9 112.4,161.5 121.4,132.7 130.3,107.8 139.2,82.8 148.2,157.8 157.1,139.3 166.0,124.8 174.9,95.7 183.9,103.4 192.8,86.9 201.7,70.4 210.7,161.5 219.6,144.4 228.5,128.7 237.5,104.5 246.4,90.7 255.3,70.4 264.2,157.6 273.2,141.9 282.1,126.1 291.0,114.9 300.0,97.3 308.9,159.6 317.8,77.7 326.8,66.3 335.7,115.6 344.6,62.5 353.6,116.2 362.5,66.3 371.4,121.0 380.3,70.4 389.3,152.3 398.2,133.4 407.1,114.4 416.1,67.1 425.0,158.9 433.9,139.3 442.8,121.0 451.8,105.2 460.7,86.9 469.6,68.5 478.6,160.2 487.5,146.4 496.4,130.1 505.4,114.4 514.3,98.6 523.2,73.7 532.1,163.5 541.1,145.2"/><line x1="164.5" x2="164.5" y1="33.5" y2="198.7" stroke="#000" stroke-width="2"/></g></svg></div>
<div class="card " style="left:1118px;top:364px;width:581px;height:226px"><div class="ct" style="letter-spacing:0.21px">Total consumers per broker</div><svg class="plot" width="581" height="226" viewBox="0 0 581 226"><g transform="translate(-0.5,0.5)"><text x="35.5" y="202.7" text-anchor="end" class="al">0</text><line x1="38.5" x2="575.5" y1="171.2" y2="171.2" stroke="#eeeef0" stroke-width="1"/><text x="35.5" y="175.2" text-anchor="end" class="al">5</text><line x1="38.5" x2="575.5" y1="143.6" y2="143.6" stroke="#eeeef0" stroke-width="1"/><text x="35.5" y="147.6" text-anchor="end" class="al">10</text><line x1="38.5" x2="575.5" y1="116.1" y2="116.1" stroke="#eeeef0" stroke-width="1"/><text x="35.5" y="120.1" text-anchor="end" class="al">15</text><line x1="38.5" x2="575.5" y1="88.6" y2="88.6" stroke="#eeeef0" stroke-width="1"/><text x="35.5" y="92.6" text-anchor="end" class="al">20</text><line x1="38.5" x2="575.5" y1="61.0" y2="61.0" stroke="#eeeef0" stroke-width="1"/><text x="35.5" y="65.0" text-anchor="end" class="al">25</text><line x1="38.5" x2="575.5" y1="33.5" y2="33.5" stroke="#eeeef0" stroke-width="1"/><text x="35.5" y="37.5" text-anchor="end" class="al">30</text><rect x="157.1" y="33.5" width="7" height="165.2" fill="#000" fill-opacity="0.15"/><rect x="40.6" y="187.69" width="7" height="11.01" fill="#bba4d4"/><rect x="49.6" y="193.19" width="7" height="5.51" fill="#bba4d4"/><rect x="58.5" y="193.19" width="7" height="5.51" fill="#bba4d4"/><rect x="58.5" y="182.18" width="7" height="11.01" fill="#3297cd"/><rect x="67.5" y="187.69" width="7" height="11.01" fill="#bba4d4"/><rect x="67.5" y="182.18" width="7" height="5.51" fill="#3297cd"/><rect x="76.5" y="193.19" width="7" height="5.51" fill="#3297cd"/><rect x="85.4" y="193.19" width="7" height="5.51" fill="#bba4d4"/><rect x="94.4" y="182.18" width="7" height="16.52" fill="#bba4d4"/><rect x="94.4" y="176.67" width="7" height="5.51" fill="#3297cd"/><rect x="103.3" y="193.19" width="7" height="5.51" fill="#bba4d4"/><rect x="103.3" y="187.69" width="7" height="5.51" fill="#9acde5"/><rect x="112.3" y="187.69" width="7" height="11.01" fill="#bba4d4"/><rect x="112.3" y="176.67" width="7" height="11.01" fill="#3297cd"/><rect x="112.3" y="160.15" width="7" height="16.52" fill="#9acde5"/><rect x="121.3" y="193.19" width="7" height="5.51" fill="#bba4d4"/><rect x="121.3" y="176.67" width="7" height="16.52" fill="#3297cd"/><rect x="130.2" y="182.18" width="7" height="16.52" fill="#bba4d4"/><rect x="130.2" y="165.66" width="7" height="16.52" fill="#3297cd"/><rect x="139.2" y="176.67" width="7" height="22.03" fill="#bba4d4"/><rect x="139.2" y="171.17" width="7" height="5.51" fill="#3297cd"/><rect x="148.2" y="193.19" width="7" height="5.51" fill="#bba4d4"/><rect x="148.2" y="187.69" width="7" height="5.51" fill="#3297cd"/><rect x="408.1" y="193.19" width="7" height="5.51" fill="#3297cd"/><rect x="443.9" y="193.19" width="7" height="5.51" fill="#3297cd"/><rect x="470.8" y="193.19" width="7" height="5.51" fill="#3297cd"/><rect x="479.8" y="193.19" width="7" height="5.51" fill="#bba4d4"/><rect x="479.8" y="182.18" width="7" height="11.01" fill="#3297cd"/><rect x="479.8" y="176.67" width="7" height="5.51" fill="#9acde5"/><rect x="488.8" y="193.19" width="7" height="5.51" fill="#bba4d4"/><rect x="488.8" y="187.69" width="7" height="5.51" fill="#3297cd"/><rect x="488.8" y="176.67" width="7" height="11.01" fill="#9acde5"/><rect x="497.7" y="160.15" width="7" height="38.55" fill="#3297cd"/><rect x="497.7" y="149.14" width="7" height="11.01" fill="#9acde5"/><rect x="506.7" y="176.67" width="7" height="22.03" fill="#bba4d4"/><rect x="506.7" y="132.62" width="7" height="44.05" fill="#3297cd"/><rect x="515.6" y="187.69" width="7" height="11.01" fill="#3297cd"/><rect x="515.6" y="165.66" width="7" height="22.03" fill="#9acde5"/><rect x="524.6" y="193.19" width="7" height="5.51" fill="#3297cd"/><rect x="524.6" y="187.69" width="7" height="5.51" fill="#9acde5"/><rect x="533.6" y="176.67" width="7" height="22.03" fill="#bba4d4"/><rect x="533.6" y="116.10" width="7" height="60.57" fill="#3297cd"/><rect x="542.5" y="160.15" width="7" height="38.55" fill="#bba4d4"/><rect x="542.5" y="99.58" width="7" height="60.57" fill="#3297cd"/><rect x="542.5" y="66.54" width="7" height="33.04" fill="#9acde5"/><line x1="38.5" x2="575.5" y1="198.7" y2="198.7" stroke="#a3a3a8" stroke-width="1"/><line x1="140.0" x2="140.0" y1="198.7" y2="203.7" stroke="#a3a3a8" stroke-width="1"/><text x="140.0" y="216.0" text-anchor="middle" class="al">14:45</text><line x1="273.95" x2="273.95" y1="198.7" y2="203.7" stroke="#a3a3a8" stroke-width="1"/><text x="273.95" y="216.0" text-anchor="middle" class="al">15:00</text><line x1="407.9" x2="407.9" y1="198.7" y2="203.7" stroke="#a3a3a8" stroke-width="1"/><text x="407.9" y="216.0" text-anchor="middle" class="al">15:15</text><line x1="541.85" x2="541.85" y1="198.7" y2="203.7" stroke="#a3a3a8" stroke-width="1"/><text x="541.85" y="216.0" text-anchor="middle" class="al">15:30</text></g></svg></div>
<div class="card " style="left:1712px;top:364px;width:581px;height:226px"><div class="ct" style="letter-spacing:0.261px">Network out per broker (bytes)</div><svg class="plot" width="581" height="226" viewBox="0 0 581 226"><g transform="translate(-0.5,0.5)"><text x="35.5" y="202.7" text-anchor="end" class="al">0</text><line x1="38.5" x2="575.5" y1="156.2" y2="156.2" stroke="#eeeef0" stroke-width="1"/><text x="35.5" y="160.2" text-anchor="end" class="al">64</text><line x1="38.5" x2="575.5" y1="113.6" y2="113.6" stroke="#eeeef0" stroke-width="1"/><text x="35.5" y="117.6" text-anchor="end" class="al">128</text><line x1="38.5" x2="575.5" y1="71.1" y2="71.1" stroke="#eeeef0" stroke-width="1"/><text x="35.5" y="75.1" text-anchor="end" class="al">192</text><line x1="38.5" x2="575.5" y1="198.7" y2="198.7" stroke="#a3a3a8" stroke-width="1"/><line x1="140.0" x2="140.0" y1="198.7" y2="203.7" stroke="#a3a3a8" stroke-width="1"/><text x="140.0" y="216.0" text-anchor="middle" class="al">14:45</text><line x1="273.95" x2="273.95" y1="198.7" y2="203.7" stroke="#a3a3a8" stroke-width="1"/><text x="273.95" y="216.0" text-anchor="middle" class="al">15:00</text><line x1="407.9" x2="407.9" y1="198.7" y2="203.7" stroke="#a3a3a8" stroke-width="1"/><text x="407.9" y="216.0" text-anchor="middle" class="al">15:15</text><line x1="541.85" x2="541.85" y1="198.7" y2="203.7" stroke="#a3a3a8" stroke-width="1"/><text x="541.85" y="216.0" text-anchor="middle" class="al">15:30</text><polyline fill="none" stroke="#cbc7e6" stroke-width="1.9" stroke-linejoin="miter" points="38.5,175.4 41.0,172.1 49.9,160.8 58.9,153.5 67.8,149.5 76.7,130.4 85.7,115.1 94.6,107.6 103.5,112.5 112.4,97.2 121.4,95.7 130.3,107.6 139.2,140.9 148.2,156.2 157.1,174.1 166.0,198.4 174.9,198.6 183.9,198.6 192.8,198.6 201.7,198.6 210.7,198.6 219.6,198.6 228.5,198.6 237.5,198.6 246.4,198.6 255.3,198.6 264.2,198.6 273.2,198.6 282.1,198.6 291.0,198.6 300.0,198.6 308.9,198.6 317.8,198.6 326.8,198.6 335.7,198.6 344.6,198.6 353.6,198.6 362.5,198.6 371.4,198.6 380.3,198.6 389.3,198.6 398.2,198.6 407.1,196.9 416.1,196.4 425.0,198.4 433.9,195.6 442.8,198.4 451.8,189.4 460.7,198.2 469.6,112.5 478.6,88.3 487.5,66.4 496.4,83.0 505.4,93.7 514.3,125.6 523.2,97.2 532.1,154.8"/><polyline fill="none" stroke="#9d95d1" stroke-width="1.9" stroke-linejoin="miter" points="38.5,175.4 41.0,172.1 49.9,160.8 58.9,143.2 67.8,137.5 76.7,134.2 85.7,119.6 94.6,121.6 103.5,97.2 112.4,97.7 121.4,105.0 130.3,99.6 139.2,134.2 148.2,134.2 157.1,171.4 166.0,198.2 174.9,198.6 183.9,198.6 192.8,198.6 201.7,198.6 210.7,198.6 219.6,198.6 228.5,198.6 237.5,198.6 246.4,198.6 255.3,198.6 264.2,198.6 273.2,198.6 282.1,198.6 291.0,198.6 300.0,198.6 308.9,198.6 317.8,198.6 326.8,198.6 335.7,198.6 344.6,198.6 353.6,198.6 362.5,198.6 371.4,198.6 380.3,198.6 389.3,198.6 398.2,198.6 407.1,192.6 416.1,192.6 425.0,190.1 433.9,190.1 442.8,190.1 451.8,192.1 460.7,188.5 469.6,83.0 478.6,66.4 487.5,75.7 496.4,79.3 505.4,90.0 514.3,90.0 523.2,88.3 532.1,185.4"/><polyline fill="none" stroke="#6a5bb0" stroke-width="1.9" stroke-linejoin="miter" points="38.5,175.4 41.0,172.8 49.9,161.1 58.9,145.8 67.8,135.5 76.7,124.2 85.7,129.9 94.6,110.0 103.5,97.2 112.4,87.0 121.4,88.0 130.3,98.4 139.2,121.6 148.2,143.2 157.1,172.8 166.0,198.2 174.9,198.6 183.9,198.6 192.8,198.6 201.7,198.6 210.7,198.6 219.6,198.6 228.5,198.6 237.5,198.6 246.4,198.6 255.3,198.6 264.2,198.6 273.2,198.6 282.1,198.6 291.0,198.6 300.0,198.6 308.9,198.6 317.8,198.6 326.8,198.6 335.7,198.6 344.6,198.6 353.6,198.6 362.5,198.6 371.4,198.6 380.3,198.6 389.3,198.6 398.2,198.6 407.1,198.6 416.1,198.6 425.0,198.6 433.9,198.6 442.8,198.6 451.8,198.6 460.7,197.7 469.6,143.2 478.6,121.6 487.5,74.4 496.4,107.0 505.4,112.9 514.3,112.9 523.2,83.0 532.1,130.4"/><polyline fill="none" stroke="#4d1f8c" stroke-width="2.0" stroke-linejoin="miter" points="38.5,198.7 41.0,198.7 49.9,198.7 58.9,198.7 67.8,198.7 76.7,198.7 85.7,198.7 94.6,193.0 103.5,192.1 112.4,191.8 121.4,191.8 130.3,191.9 139.2,191.7 148.2,191.8 157.1,191.9 166.0,191.7 174.9,191.7 183.9,191.9 192.8,191.7 201.7,191.8 210.7,191.7 219.6,192.1 228.5,191.7 237.5,191.9 246.4,191.7 255.3,191.7 264.2,191.9 273.2,191.9 282.1,191.8 291.0,191.7 300.0,189.3 308.9,185.4 317.8,182.9 326.8,180.8 335.7,180.6 344.6,180.6 353.6,180.4 362.5,180.8 371.4,180.8 380.3,192.6 389.3,197.7 398.2,197.7 407.1,196.9 416.1,197.9 425.0,198.0 433.9,197.8 442.8,198.0 451.8,197.9 460.7,198.0 469.6,197.9 478.6,197.8 487.5,197.9 496.4,197.6 505.4,197.6 514.3,197.6 523.2,197.6 532.1,197.7"/><line x1="164.5" x2="164.5" y1="33.5" y2="198.7" stroke="#000" stroke-width="2"/></g></svg></div>
<div class="card " style="left:524px;top:615px;width:581px;height:226px"><div class="ct" style="letter-spacing:0.113px">Total messages sent per destination</div><svg class="plot" width="581" height="226" viewBox="0 0 581 226"><g transform="translate(-0.5,-0.2)"><text x="35.5" y="202.7" text-anchor="end" class="al">0</text><line x1="38.5" x2="575.5" y1="171.2" y2="171.2" stroke="#eeeef0" stroke-width="1"/><text x="35.5" y="175.2" text-anchor="end" class="al">100</text><line x1="38.5" x2="575.5" y1="143.6" y2="143.6" stroke="#eeeef0" stroke-width="1"/><text x="35.5" y="147.6" text-anchor="end" class="al">200</text><line x1="38.5" x2="575.5" y1="116.1" y2="116.1" stroke="#eeeef0" stroke-width="1"/><text x="35.5" y="120.1" text-anchor="end" class="al">300</text><line x1="38.5" x2="575.5" y1="88.6" y2="88.6" stroke="#eeeef0" stroke-width="1"/><text x="35.5" y="92.6" text-anchor="end" class="al">400</text><line x1="38.5" x2="575.5" y1="61.0" y2="61.0" stroke="#eeeef0" stroke-width="1"/><text x="35.5" y="65.0" text-anchor="end" class="al">500</text><line x1="38.5" x2="575.5" y1="33.5" y2="33.5" stroke="#eeeef0" stroke-width="1"/><text x="35.5" y="37.5" text-anchor="end" class="al">600</text><rect x="157.1" y="33.5" width="7" height="165.2" fill="#000" fill-opacity="0.15"/><rect x="40.6" y="187.69" width="7" height="11.01" fill="#005a32"/><rect x="40.6" y="176.67" width="7" height="11.01" fill="#238b45"/><rect x="40.6" y="165.11" width="7" height="11.56" fill="#41ab5d"/><rect x="40.6" y="154.10" width="7" height="11.01" fill="#74c476"/><rect x="40.6" y="142.26" width="7" height="11.84" fill="#a1d99b"/><rect x="40.6" y="130.42" width="7" height="11.84" fill="#c7e9c0"/><rect x="49.6" y="187.69" width="7" height="11.01" fill="#005a32"/><rect x="49.6" y="176.67" width="7" height="11.01" fill="#238b45"/><rect x="49.6" y="165.11" width="7" height="11.56" fill="#41ab5d"/><rect x="49.6" y="154.10" width="7" height="11.01" fill="#74c476"/><rect x="49.6" y="142.26" width="7" height="11.84" fill="#a1d99b"/><rect x="49.6" y="129.87" width="7" height="12.39" fill="#c7e9c0"/><rect x="58.5" y="187.69" width="7" height="11.01" fill="#005a32"/><rect x="58.5" y="176.67" width="7" height="11.01" fill="#238b45"/><rect x="58.5" y="165.11" width="7" height="11.56" fill="#41ab5d"/><rect x="58.5" y="154.10" width="7" height="11.01" fill="#74c476"/><rect x="58.5" y="142.26" width="7" height="11.84" fill="#a1d99b"/><rect x="58.5" y="131.79" width="7" height="10.46" fill="#c7e9c0"/><rect x="67.5" y="187.69" width="7" height="11.01" fill="#005a32"/><rect x="67.5" y="176.67" width="7" height="11.01" fill="#238b45"/><rect x="67.5" y="165.11" width="7" height="11.56" fill="#41ab5d"/><rect x="67.5" y="154.10" width="7" height="11.01" fill="#74c476"/><rect x="67.5" y="142.26" width="7" height="11.84" fill="#a1d99b"/><rect x="67.5" y="130.69" width="7" height="11.56" fill="#c7e9c0"/><rect x="76.5" y="187.69" width="7" height="11.01" fill="#005a32"/><rect x="76.5" y="176.67" width="7" height="11.01" fill="#238b45"/><rect x="76.5" y="165.11" width="7" height="11.56" fill="#41ab5d"/><rect x="76.5" y="154.10" width="7" height="11.01" fill="#74c476"/><rect x="76.5" y="142.26" width="7" height="11.84" fill="#a1d99b"/><rect x="76.5" y="130.69" width="7" height="11.56" fill="#c7e9c0"/><rect x="85.4" y="187.69" width="7" height="11.01" fill="#005a32"/><rect x="85.4" y="176.67" width="7" height="11.01" fill="#238b45"/><rect x="85.4" y="165.11" width="7" height="11.56" fill="#41ab5d"/><rect x="85.4" y="154.10" width="7" height="11.01" fill="#74c476"/><rect x="85.4" y="142.26" width="7" height="11.84" fill="#a1d99b"/><rect x="85.4" y="130.69" width="7" height="11.56" fill="#c7e9c0"/><rect x="94.4" y="187.69" width="7" height="11.01" fill="#005a32"/><rect x="94.4" y="176.67" width="7" height="11.01" fill="#238b45"/><rect x="94.4" y="165.11" width="7" height="11.56" fill="#41ab5d"/><rect x="94.4" y="154.10" width="7" height="11.01" fill="#74c476"/><rect x="94.4" y="142.26" width="7" height="11.84" fill="#a1d99b"/><rect x="94.4" y="131.52" width="7" height="10.74" fill="#c7e9c0"/><rect x="103.3" y="154.65" width="7" height="44.05" fill="#005a32"/><rect x="103.3" y="110.59" width="7" height="44.05" fill="#238b45"/><rect x="103.3" y="100.13" width="7" height="10.46" fill="#41ab5d"/><rect x="103.3" y="88.02" width="7" height="12.11" fill="#74c476"/><rect x="103.3" y="76.18" width="7" height="11.84" fill="#a1d99b"/><rect x="103.3" y="67.09" width="7" height="9.09" fill="#c7e9c0"/><rect x="112.3" y="154.65" width="7" height="44.05" fill="#005a32"/><rect x="112.3" y="110.59" width="7" height="44.05" fill="#238b45"/><rect x="112.3" y="99.58" width="7" height="11.01" fill="#41ab5d"/><rect x="112.3" y="88.02" width="7" height="11.56" fill="#74c476"/><rect x="112.3" y="76.18" width="7" height="11.84" fill="#a1d99b"/><rect x="112.3" y="64.89" width="7" height="11.29" fill="#c7e9c0"/><rect x="121.3" y="154.65" width="7" height="44.05" fill="#005a32"/><rect x="121.3" y="110.59" width="7" height="44.05" fill="#238b45"/><rect x="121.3" y="100.13" width="7" height="10.46" fill="#41ab5d"/><rect x="121.3" y="88.02" width="7" height="12.11" fill="#74c476"/><rect x="121.3" y="76.18" width="7" height="11.84" fill="#a1d99b"/><rect x="121.3" y="67.09" width="7" height="9.09" fill="#c7e9c0"/><rect x="130.2" y="154.65" width="7" height="44.05" fill="#005a32"/><rect x="130.2" y="110.59" width="7" height="44.05" fill="#238b45"/><rect x="130.2" y="99.58" width="7" height="11.01" fill="#41ab5d"/><rect x="130.2" y="88.02" width="7" height="11.56" fill="#74c476"/><rect x="130.2" y="76.18" width="7" height="11.84" fill="#a1d99b"/><rect x="130.2" y="64.89" width="7" height="11.29" fill="#c7e9c0"/><rect x="139.2" y="154.65" width="7" height="44.05" fill="#005a32"/><rect x="139.2" y="110.59" width="7" height="44.05" fill="#238b45"/><rect x="139.2" y="100.13" width="7" height="10.46" fill="#41ab5d"/><rect x="139.2" y="88.02" width="7" height="12.11" fill="#74c476"/><rect x="139.2" y="76.18" width="7" height="11.84" fill="#a1d99b"/><rect x="139.2" y="65.71" width="7" height="10.46" fill="#c7e9c0"/><rect x="148.2" y="156.57" width="7" height="42.13" fill="#005a32"/><rect x="148.2" y="112.52" width="7" height="44.05" fill="#238b45"/><rect x="148.2" y="99.58" width="7" height="12.94" fill="#41ab5d"/><rect x="148.2" y="88.02" width="7" height="11.56" fill="#74c476"/><rect x="148.2" y="76.18" width="7" height="11.84" fill="#a1d99b"/><rect x="148.2" y="67.09" width="7" height="9.09" fill="#c7e9c0"/><rect x="157.1" y="154.65" width="7" height="44.05" fill="#005a32"/><rect x="157.1" y="110.59" width="7" height="44.05" fill="#238b45"/><rect x="157.1" y="100.13" width="7" height="10.46" fill="#41ab5d"/><rect x="157.1" y="88.02" width="7" height="12.11" fill="#74c476"/><rect x="157.1" y="76.18" width="7" height="11.84" fill="#a1d99b"/><rect x="157.1" y="65.44" width="7" height="10.74" fill="#c7e9c0"/><rect x="166.1" y="161.53" width="7" height="37.17" fill="#005a32"/><rect x="166.1" y="128.49" width="7" height="33.04" fill="#238b45"/><rect x="166.1" y="124.36" width="7" height="4.13" fill="#41ab5d"/><rect x="166.1" y="118.85" width="7" height="5.51" fill="#74c476"/><rect x="166.1" y="117.75" width="7" height="1.10" fill="#a1d99b"/><rect x="166.1" y="116.65" width="7" height="1.10" fill="#c7e9c0"/><rect x="175.0" y="167.04" width="7" height="31.66" fill="#005a32"/><rect x="175.0" y="134.00" width="7" height="33.04" fill="#238b45"/><rect x="184.0" y="167.04" width="7" height="31.66" fill="#005a32"/><rect x="184.0" y="134.00" width="7" height="33.04" fill="#238b45"/><rect x="193.0" y="167.04" width="7" height="31.66" fill="#005a32"/><rect x="193.0" y="134.00" width="7" height="33.04" fill="#238b45"/><rect x="201.9" y="167.04" width="7" height="31.66" fill="#005a32"/><rect x="201.9" y="134.00" width="7" height="33.04" fill="#238b45"/><rect x="210.9" y="167.04" width="7" height="31.66" fill="#005a32"/><rect x="210.9" y="134.00" width="7" height="33.04" fill="#238b45"/><rect x="219.9" y="167.04" width="7" height="31.66" fill="#005a32"/><rect x="219.9" y="134.82" width="7" height="32.21" fill="#238b45"/><rect x="228.8" y="167.04" width="7" height="31.66" fill="#005a32"/><rect x="228.8" y="132.62" width="7" height="34.42" fill="#238b45"/><rect x="237.8" y="167.04" width="7" height="31.66" fill="#005a32"/><rect x="237.8" y="134.82" width="7" height="32.21" fill="#238b45"/><rect x="246.7" y="167.04" width="7" height="31.66" fill="#005a32"/><rect x="246.7" y="132.62" width="7" height="34.42" fill="#238b45"/><rect x="255.7" y="167.04" width="7" height="31.66" fill="#005a32"/><rect x="255.7" y="132.62" width="7" height="34.42" fill="#238b45"/><rect x="264.7" y="167.04" width="7" height="31.66" fill="#005a32"/><rect x="264.7" y="134.00" width="7" height="33.04" fill="#238b45"/><rect x="273.6" y="167.04" width="7" height="31.66" fill="#005a32"/><rect x="273.6" y="134.00" width="7" height="33.04" fill="#238b45"/><rect x="282.6" y="167.04" width="7" height="31.66" fill="#005a32"/><rect x="282.6" y="134.00" width="7" height="33.04" fill="#238b45"/><rect x="291.6" y="167.04" width="7" height="31.66" fill="#005a32"/><rect x="291.6" y="132.62" width="7" height="34.42" fill="#238b45"/><rect x="300.5" y="167.04" width="7" height="31.66" fill="#005a32"/><rect x="300.5" y="134.82" width="7" height="32.21" fill="#238b45"/><rect x="309.5" y="167.04" width="7" height="31.66" fill="#005a32"/><rect x="309.5" y="131.79" width="7" height="35.24" fill="#238b45"/><rect x="318.5" y="167.04" width="7" height="31.66" fill="#005a32"/><rect x="318.5" y="131.79" width="7" height="35.24" fill="#238b45"/><rect x="327.4" y="165.11" width="7" height="33.59" fill="#005a32"/><rect x="327.4" y="129.87" width="7" height="35.24" fill="#238b45"/><rect x="336.4" y="163.73" width="7" height="34.97" fill="#005a32"/><rect x="336.4" y="127.11" width="7" height="36.62" fill="#238b45"/><rect x="345.3" y="165.11" width="7" height="33.59" fill="#005a32"/><rect x="345.3" y="129.87" width="7" height="35.24" fill="#238b45"/><rect x="354.3" y="163.73" width="7" height="34.97" fill="#005a32"/><rect x="354.3" y="128.49" width="7" height="35.24" fill="#238b45"/><rect x="363.3" y="163.73" width="7" height="34.97" fill="#005a32"/><rect x="363.3" y="128.49" width="7" height="35.24" fill="#238b45"/><rect x="372.2" y="163.73" width="7" height="34.97" fill="#005a32"/><rect x="372.2" y="128.49" width="7" height="35.24" fill="#238b45"/><rect x="381.2" y="178.60" width="7" height="20.10" fill="#005a32"/><rect x="381.2" y="157.40" width="7" height="21.20" fill="#238b45"/><rect x="390.2" y="195.67" width="7" height="3.03" fill="#238b45"/><rect x="399.1" y="195.67" width="7" height="3.03" fill="#238b45"/><rect x="408.1" y="194.57" width="7" height="4.13" fill="#005a32"/><rect x="408.1" y="190.44" width="7" height="4.13" fill="#238b45"/><rect x="417.0" y="196.77" width="7" height="1.93" fill="#005a32"/><rect x="417.0" y="196.22" width="7" height="0.55" fill="#238b45"/><rect x="417.0" y="195.40" width="7" height="0.83" fill="#74c476"/><rect x="417.0" y="194.85" width="7" height="0.55" fill="#a1d99b"/><rect x="426.0" y="196.22" width="7" height="2.48" fill="#238b45"/><rect x="426.0" y="195.40" width="7" height="0.83" fill="#a1d99b"/><rect x="426.0" y="194.85" width="7" height="0.55" fill="#c7e9c0"/><rect x="435.0" y="196.50" width="7" height="2.20" fill="#005a32"/><rect x="435.0" y="195.95" width="7" height="0.55" fill="#238b45"/><rect x="443.9" y="195.67" width="7" height="3.03" fill="#238b45"/><rect x="452.9" y="197.05" width="7" height="1.65" fill="#238b45"/><rect x="461.9" y="195.67" width="7" height="3.03" fill="#238b45"/><rect x="470.8" y="196.77" width="7" height="1.93" fill="#005a32"/><rect x="470.8" y="195.12" width="7" height="1.65" fill="#238b45"/><rect x="479.8" y="197.05" width="7" height="1.65" fill="#238b45"/><rect x="488.8" y="196.50" width="7" height="2.20" fill="#005a32"/><rect x="488.8" y="195.67" width="7" height="0.83" fill="#238b45"/><rect x="497.7" y="195.67" width="7" height="3.03" fill="#238b45"/><rect x="506.7" y="197.05" width="7" height="1.65" fill="#238b45"/><rect x="515.6" y="195.67" width="7" height="3.03" fill="#238b45"/><rect x="524.6" y="196.50" width="7" height="2.20" fill="#005a32"/><rect x="524.6" y="195.67" width="7" height="0.83" fill="#238b45"/><rect x="533.6" y="195.67" width="7" height="3.03" fill="#238b45"/><rect x="542.5" y="196.50" width="7" height="2.20" fill="#005a32"/><rect x="542.5" y="195.67" width="7" height="0.83" fill="#238b45"/><line x1="38.5" x2="575.5" y1="198.7" y2="198.7" stroke="#a3a3a8" stroke-width="1"/><line x1="140.0" x2="140.0" y1="198.7" y2="203.7" stroke="#a3a3a8" stroke-width="1"/><text x="140.0" y="216.0" text-anchor="middle" class="al">14:45</text><line x1="273.95" x2="273.95" y1="198.7" y2="203.7" stroke="#a3a3a8" stroke-width="1"/><text x="273.95" y="216.0" text-anchor="middle" class="al">15:00</text><line x1="407.9" x2="407.9" y1="198.7" y2="203.7" stroke="#a3a3a8" stroke-width="1"/><text x="407.9" y="216.0" text-anchor="middle" class="al">15:15</text><line x1="541.85" x2="541.85" y1="198.7" y2="203.7" stroke="#a3a3a8" stroke-width="1"/><text x="541.85" y="216.0" text-anchor="middle" class="al">15:30</text></g></svg></div>
<div class="card " style="left:1118px;top:615px;width:581px;height:226px"><div class="ct" style="letter-spacing:0.19px">Producers per destination</div><svg class="plot" width="581" height="226" viewBox="0 0 581 226"><g transform="translate(-0.5,-0.2)"><text x="35.5" y="202.7" text-anchor="end" class="al">0</text><line x1="38.5" x2="575.5" y1="171.2" y2="171.2" stroke="#eeeef0" stroke-width="1"/><text x="35.5" y="175.2" text-anchor="end" class="al">5</text><line x1="38.5" x2="575.5" y1="143.6" y2="143.6" stroke="#eeeef0" stroke-width="1"/><text x="35.5" y="147.6" text-anchor="end" class="al">10</text><line x1="38.5" x2="575.5" y1="116.1" y2="116.1" stroke="#eeeef0" stroke-width="1"/><text x="35.5" y="120.1" text-anchor="end" class="al">15</text><line x1="38.5" x2="575.5" y1="88.6" y2="88.6" stroke="#eeeef0" stroke-width="1"/><text x="35.5" y="92.6" text-anchor="end" class="al">20</text><line x1="38.5" x2="575.5" y1="61.0" y2="61.0" stroke="#eeeef0" stroke-width="1"/><text x="35.5" y="65.0" text-anchor="end" class="al">25</text><line x1="38.5" x2="575.5" y1="33.5" y2="33.5" stroke="#eeeef0" stroke-width="1"/><text x="35.5" y="37.5" text-anchor="end" class="al">30</text><rect x="157.1" y="33.5" width="7" height="165.2" fill="#000" fill-opacity="0.15"/><rect x="40.6" y="182.18" width="7" height="16.52" fill="#9acde5"/><rect x="49.6" y="187.69" width="7" height="11.01" fill="#9acde5"/><rect x="58.5" y="182.18" width="7" height="16.52" fill="#9acde5"/><rect x="67.5" y="182.18" width="7" height="16.52" fill="#9acde5"/><rect x="76.5" y="193.19" width="7" height="5.51" fill="#9acde5"/><rect x="85.4" y="182.18" width="7" height="16.52" fill="#9acde5"/><rect x="94.4" y="176.67" width="7" height="22.03" fill="#9acde5"/><rect x="103.3" y="187.69" width="7" height="11.01" fill="#9acde5"/><rect x="112.3" y="149.14" width="7" height="49.56" fill="#9acde5"/><rect x="121.3" y="176.67" width="7" height="22.03" fill="#9acde5"/><rect x="130.2" y="165.66" width="7" height="33.04" fill="#9acde5"/><rect x="139.2" y="171.17" width="7" height="27.53" fill="#9acde5"/><rect x="148.2" y="182.18" width="7" height="16.52" fill="#9acde5"/><rect x="157.1" y="176.67" width="7" height="22.03" fill="#9acde5"/><rect x="166.1" y="121.61" width="7" height="77.09" fill="#9acde5"/><rect x="175.0" y="132.62" width="7" height="66.08" fill="#9acde5"/><rect x="184.0" y="132.62" width="7" height="66.08" fill="#9acde5"/><rect x="193.0" y="132.62" width="7" height="66.08" fill="#9acde5"/><rect x="201.9" y="127.11" width="7" height="71.59" fill="#9acde5"/><rect x="210.9" y="132.62" width="7" height="66.08" fill="#9acde5"/><rect x="219.9" y="132.62" width="7" height="66.08" fill="#9acde5"/><rect x="228.8" y="132.62" width="7" height="66.08" fill="#9acde5"/><rect x="237.8" y="132.62" width="7" height="66.08" fill="#9acde5"/><rect x="246.7" y="132.62" width="7" height="66.08" fill="#9acde5"/><rect x="255.7" y="132.62" width="7" height="66.08" fill="#9acde5"/><rect x="264.7" y="132.62" width="7" height="66.08" fill="#9acde5"/><rect x="273.6" y="132.62" width="7" height="66.08" fill="#9acde5"/><rect x="282.6" y="132.62" width="7" height="66.08" fill="#9acde5"/><rect x="291.6" y="132.62" width="7" height="66.08" fill="#9acde5"/><rect x="300.5" y="132.62" width="7" height="66.08" fill="#9acde5"/><rect x="309.5" y="132.62" width="7" height="66.08" fill="#9acde5"/><rect x="318.5" y="132.62" width="7" height="66.08" fill="#9acde5"/><rect x="327.4" y="132.62" width="7" height="66.08" fill="#9acde5"/><rect x="336.4" y="132.62" width="7" height="66.08" fill="#9acde5"/><rect x="345.3" y="132.62" width="7" height="66.08" fill="#9acde5"/><rect x="354.3" y="132.62" width="7" height="66.08" fill="#9acde5"/><rect x="363.3" y="132.62" width="7" height="66.08" fill="#9acde5"/><rect x="372.2" y="132.62" width="7" height="66.08" fill="#9acde5"/><rect x="381.2" y="132.62" width="7" height="66.08" fill="#9acde5"/><rect x="390.2" y="132.62" width="7" height="66.08" fill="#9acde5"/><rect x="399.1" y="132.62" width="7" height="66.08" fill="#9acde5"/><rect x="408.1" y="127.11" width="7" height="71.59" fill="#9acde5"/><rect x="417.0" y="143.63" width="7" height="55.07" fill="#9acde5"/><rect x="426.0" y="154.65" width="7" height="44.05" fill="#9acde5"/><rect x="435.0" y="160.15" width="7" height="38.55" fill="#9acde5"/><rect x="443.9" y="160.15" width="7" height="38.55" fill="#9acde5"/><rect x="452.9" y="165.66" width="7" height="33.04" fill="#9acde5"/><rect x="461.9" y="165.66" width="7" height="33.04" fill="#9acde5"/><rect x="470.8" y="182.18" width="7" height="16.52" fill="#9acde5"/><rect x="479.8" y="176.67" width="7" height="22.03" fill="#9acde5"/><rect x="488.8" y="176.67" width="7" height="22.03" fill="#9acde5"/><rect x="497.7" y="149.14" width="7" height="49.56" fill="#9acde5"/><rect x="506.7" y="116.10" width="7" height="82.60" fill="#9acde5"/><rect x="515.6" y="160.15" width="7" height="38.55" fill="#9acde5"/><rect x="524.6" y="187.69" width="7" height="11.01" fill="#9acde5"/><rect x="533.6" y="110.59" width="7" height="88.11" fill="#9acde5"/><rect x="542.5" y="66.54" width="7" height="132.16" fill="#9acde5"/><line x1="38.5" x2="575.5" y1="198.7" y2="198.7" stroke="#a3a3a8" stroke-width="1"/><line x1="140.0" x2="140.0" y1="198.7" y2="203.7" stroke="#a3a3a8" stroke-width="1"/><text x="140.0" y="216.0" text-anchor="middle" class="al">14:45</text><line x1="273.95" x2="273.95" y1="198.7" y2="203.7" stroke="#a3a3a8" stroke-width="1"/><text x="273.95" y="216.0" text-anchor="middle" class="al">15:00</text><line x1="407.9" x2="407.9" y1="198.7" y2="203.7" stroke="#a3a3a8" stroke-width="1"/><text x="407.9" y="216.0" text-anchor="middle" class="al">15:15</text><line x1="541.85" x2="541.85" y1="198.7" y2="203.7" stroke="#a3a3a8" stroke-width="1"/><text x="541.85" y="216.0" text-anchor="middle" class="al">15:30</text></g></svg></div>
<div class="card " style="left:1712px;top:615px;width:581px;height:226px"><div class="ct" style="letter-spacing:0.087px">Expired count per destination (messages)</div><svg class="plot" width="581" height="226" viewBox="0 0 581 226"><g transform="translate(-0.5,-0.2)"><rect x="157.1" y="33.5" width="7" height="165.2" fill="#000" fill-opacity="0.15"/><line x1="38.5" x2="575.5" y1="198.7" y2="198.7" stroke="#a3a3a8" stroke-width="1"/><line x1="140.0" x2="140.0" y1="198.7" y2="203.7" stroke="#a3a3a8" stroke-width="1"/><text x="140.0" y="216.0" text-anchor="middle" class="al">14:45</text><line x1="273.95" x2="273.95" y1="198.7" y2="203.7" stroke="#a3a3a8" stroke-width="1"/><text x="273.95" y="216.0" text-anchor="middle" class="al">15:00</text><line x1="407.9" x2="407.9" y1="198.7" y2="203.7" stroke="#a3a3a8" stroke-width="1"/><text x="407.9" y="216.0" text-anchor="middle" class="al">15:15</text><line x1="541.85" x2="541.85" y1="198.7" y2="203.7" stroke="#a3a3a8" stroke-width="1"/><text x="541.85" y="216.0" text-anchor="middle" class="al">15:30</text></g></svg></div>
<div class="card " style="left:524px;top:853px;width:581px;height:226px"><div class="ct" style="letter-spacing:0.063px">Total messages received per destination</div><svg class="plot" width="581" height="226" viewBox="0 0 581 226"><g transform="translate(-0.5,-0.7)"><text x="35.5" y="202.7" text-anchor="end" class="al">0</text><line x1="38.5" x2="575.5" y1="169.4" y2="169.4" stroke="#eeeef0" stroke-width="1"/><text x="35.5" y="173.4" text-anchor="end" class="al">50</text><line x1="38.5" x2="575.5" y1="140.1" y2="140.1" stroke="#eeeef0" stroke-width="1"/><text x="35.5" y="144.1" text-anchor="end" class="al">100</text><line x1="38.5" x2="575.5" y1="110.7" y2="110.7" stroke="#eeeef0" stroke-width="1"/><text x="35.5" y="114.7" text-anchor="end" class="al">150</text><line x1="38.5" x2="575.5" y1="81.4" y2="81.4" stroke="#eeeef0" stroke-width="1"/><text x="35.5" y="85.4" text-anchor="end" class="al">200</text><line x1="38.5" x2="575.5" y1="52.1" y2="52.1" stroke="#eeeef0" stroke-width="1"/><text x="35.5" y="56.1" text-anchor="end" class="al">250</text><rect x="157.1" y="33.5" width="7" height="165.2" fill="#000" fill-opacity="0.15"/><rect x="40.6" y="181.69" width="7" height="17.01" fill="#4a1486"/><rect x="40.6" y="162.34" width="7" height="19.35" fill="#6a51a3"/><rect x="40.6" y="145.92" width="7" height="16.42" fill="#807dba"/><rect x="40.6" y="128.33" width="7" height="17.59" fill="#9e9ac8"/><rect x="40.6" y="110.73" width="7" height="17.59" fill="#bcbddc"/><rect x="40.6" y="94.31" width="7" height="16.42" fill="#dadaeb"/><rect x="49.6" y="180.91" width="7" height="17.79" fill="#4a1486"/><rect x="49.6" y="161.93" width="7" height="18.98" fill="#6a51a3"/><rect x="49.6" y="145.33" width="7" height="16.60" fill="#807dba"/><rect x="49.6" y="127.54" width="7" height="17.79" fill="#9e9ac8"/><rect x="49.6" y="109.75" width="7" height="17.79" fill="#bcbddc"/><rect x="49.6" y="93.14" width="7" height="16.60" fill="#dadaeb"/><rect x="58.5" y="181.51" width="7" height="17.19" fill="#4a1486"/><rect x="58.5" y="164.38" width="7" height="17.13" fill="#6a51a3"/><rect x="58.5" y="148.89" width="7" height="15.50" fill="#807dba"/><rect x="58.5" y="132.28" width="7" height="16.60" fill="#9e9ac8"/><rect x="58.5" y="115.68" width="7" height="16.60" fill="#bcbddc"/><rect x="58.5" y="100.18" width="7" height="15.50" fill="#dadaeb"/><rect x="67.5" y="182.09" width="7" height="16.61" fill="#4a1486"/><rect x="67.5" y="163.16" width="7" height="18.93" fill="#6a51a3"/><rect x="67.5" y="147.11" width="7" height="16.05" fill="#807dba"/><rect x="67.5" y="129.91" width="7" height="17.20" fill="#9e9ac8"/><rect x="67.5" y="112.71" width="7" height="17.20" fill="#bcbddc"/><rect x="67.5" y="96.66" width="7" height="16.05" fill="#dadaeb"/><rect x="76.5" y="182.39" width="7" height="16.31" fill="#4a1486"/><rect x="76.5" y="165.00" width="7" height="17.40" fill="#6a51a3"/><rect x="76.5" y="149.78" width="7" height="15.22" fill="#807dba"/><rect x="76.5" y="133.47" width="7" height="16.31" fill="#9e9ac8"/><rect x="76.5" y="117.16" width="7" height="16.31" fill="#bcbddc"/><rect x="76.5" y="101.94" width="7" height="15.22" fill="#dadaeb"/><rect x="85.4" y="181.61" width="7" height="17.09" fill="#4a1486"/><rect x="85.4" y="164.59" width="7" height="17.02" fill="#6a51a3"/><rect x="85.4" y="149.18" width="7" height="15.41" fill="#807dba"/><rect x="85.4" y="132.68" width="7" height="16.51" fill="#9e9ac8"/><rect x="85.4" y="116.17" width="7" height="16.51" fill="#bcbddc"/><rect x="85.4" y="100.76" width="7" height="15.41" fill="#dadaeb"/><rect x="94.4" y="182.48" width="7" height="16.22" fill="#4a1486"/><rect x="94.4" y="163.97" width="7" height="18.51" fill="#6a51a3"/><rect x="94.4" y="148.29" width="7" height="15.68" fill="#807dba"/><rect x="94.4" y="131.49" width="7" height="16.80" fill="#9e9ac8"/><rect x="94.4" y="114.69" width="7" height="16.80" fill="#bcbddc"/><rect x="94.4" y="99.01" width="7" height="15.68" fill="#dadaeb"/><rect x="103.3" y="182.39" width="7" height="16.31" fill="#4a1486"/><rect x="103.3" y="165.00" width="7" height="17.40" fill="#6a51a3"/><rect x="103.3" y="149.78" width="7" height="15.22" fill="#807dba"/><rect x="103.3" y="133.47" width="7" height="16.31" fill="#9e9ac8"/><rect x="103.3" y="117.16" width="7" height="16.31" fill="#bcbddc"/><rect x="103.3" y="101.94" width="7" height="15.22" fill="#dadaeb"/><rect x="112.3" y="180.72" width="7" height="17.98" fill="#4a1486"/><rect x="112.3" y="162.75" width="7" height="17.97" fill="#6a51a3"/><rect x="112.3" y="146.51" width="7" height="16.24" fill="#807dba"/><rect x="112.3" y="129.12" width="7" height="17.40" fill="#9e9ac8"/><rect x="112.3" y="111.72" width="7" height="17.40" fill="#bcbddc"/><rect x="112.3" y="95.49" width="7" height="16.24" fill="#dadaeb"/><rect x="121.3" y="182.98" width="7" height="15.72" fill="#4a1486"/><rect x="121.3" y="165.00" width="7" height="17.98" fill="#6a51a3"/><rect x="121.3" y="149.78" width="7" height="15.22" fill="#807dba"/><rect x="121.3" y="133.47" width="7" height="16.31" fill="#9e9ac8"/><rect x="121.3" y="117.16" width="7" height="16.31" fill="#bcbddc"/><rect x="121.3" y="101.94" width="7" height="15.22" fill="#dadaeb"/><rect x="130.2" y="182.39" width="7" height="16.31" fill="#4a1486"/><rect x="130.2" y="165.00" width="7" height="17.40" fill="#6a51a3"/><rect x="130.2" y="149.78" width="7" height="15.22" fill="#807dba"/><rect x="130.2" y="133.47" width="7" height="16.31" fill="#9e9ac8"/><rect x="130.2" y="117.16" width="7" height="16.31" fill="#bcbddc"/><rect x="130.2" y="101.94" width="7" height="15.22" fill="#dadaeb"/><rect x="139.2" y="186.97" width="7" height="11.73" fill="#4a1486"/><rect x="139.2" y="175.24" width="7" height="11.73" fill="#6a51a3"/><rect x="139.2" y="163.51" width="7" height="11.73" fill="#807dba"/><rect x="139.2" y="153.54" width="7" height="9.97" fill="#9e9ac8"/><rect x="139.2" y="142.99" width="7" height="10.56" fill="#bcbddc"/><rect x="139.2" y="131.85" width="7" height="11.14" fill="#dadaeb"/><rect x="148.2" y="192.84" width="7" height="5.86" fill="#4a1486"/><rect x="148.2" y="185.80" width="7" height="7.04" fill="#6a51a3"/><rect x="148.2" y="179.35" width="7" height="6.45" fill="#807dba"/><rect x="148.2" y="171.14" width="7" height="8.21" fill="#9e9ac8"/><rect x="148.2" y="163.51" width="7" height="7.62" fill="#bcbddc"/><rect x="148.2" y="157.65" width="7" height="5.86" fill="#dadaeb"/><rect x="157.1" y="194.59" width="7" height="4.11" fill="#4a1486"/><rect x="157.1" y="190.49" width="7" height="4.11" fill="#6a51a3"/><rect x="157.1" y="185.80" width="7" height="4.69" fill="#807dba"/><rect x="157.1" y="182.87" width="7" height="2.93" fill="#9e9ac8"/><rect x="157.1" y="179.93" width="7" height="2.93" fill="#bcbddc"/><rect x="157.1" y="176.42" width="7" height="3.52" fill="#dadaeb"/><rect x="166.1" y="198.11" width="7" height="0.59" fill="#9e9ac8"/><rect x="166.1" y="197.53" width="7" height="0.59" fill="#bcbddc"/><rect x="408.1" y="198.23" width="7" height="0.47" fill="#807dba"/><rect x="408.1" y="197.88" width="7" height="0.35" fill="#9e9ac8"/><rect x="408.1" y="197.53" width="7" height="0.35" fill="#bcbddc"/><rect x="417.0" y="197.76" width="7" height="0.94" fill="#807dba"/><rect x="417.0" y="197.06" width="7" height="0.70" fill="#9e9ac8"/><rect x="417.0" y="196.35" width="7" height="0.70" fill="#bcbddc"/><rect x="426.0" y="197.53" width="7" height="1.17" fill="#807dba"/><rect x="426.0" y="196.65" width="7" height="0.88" fill="#9e9ac8"/><rect x="426.0" y="195.77" width="7" height="0.88" fill="#bcbddc"/><rect x="435.0" y="197.76" width="7" height="0.94" fill="#807dba"/><rect x="435.0" y="197.06" width="7" height="0.70" fill="#9e9ac8"/><rect x="435.0" y="196.35" width="7" height="0.70" fill="#bcbddc"/><rect x="443.9" y="197.76" width="7" height="0.94" fill="#807dba"/><rect x="443.9" y="197.06" width="7" height="0.70" fill="#9e9ac8"/><rect x="443.9" y="196.35" width="7" height="0.70" fill="#bcbddc"/><rect x="452.9" y="197.53" width="7" height="1.17" fill="#807dba"/><rect x="452.9" y="196.65" width="7" height="0.88" fill="#9e9ac8"/><rect x="452.9" y="195.77" width="7" height="0.88" fill="#bcbddc"/><rect x="461.9" y="197.76" width="7" height="0.94" fill="#807dba"/><rect x="461.9" y="197.06" width="7" height="0.70" fill="#9e9ac8"/><rect x="461.9" y="196.35" width="7" height="0.70" fill="#bcbddc"/><rect x="470.8" y="195.18" width="7" height="3.52" fill="#4a1486"/><rect x="470.8" y="192.84" width="7" height="2.35" fill="#6a51a3"/><rect x="470.8" y="185.80" width="7" height="7.04" fill="#807dba"/><rect x="470.8" y="181.11" width="7" height="4.69" fill="#9e9ac8"/><rect x="470.8" y="174.07" width="7" height="7.04" fill="#bcbddc"/><rect x="470.8" y="169.38" width="7" height="4.69" fill="#dadaeb"/><rect x="479.8" y="192.84" width="7" height="5.86" fill="#4a1486"/><rect x="479.8" y="184.04" width="7" height="8.80" fill="#6a51a3"/><rect x="479.8" y="170.55" width="7" height="13.49" fill="#807dba"/><rect x="479.8" y="154.72" width="7" height="15.83" fill="#9e9ac8"/><rect x="479.8" y="141.23" width="7" height="13.49" fill="#bcbddc"/><rect x="479.8" y="133.61" width="7" height="7.62" fill="#dadaeb"/><rect x="488.8" y="189.32" width="7" height="9.38" fill="#4a1486"/><rect x="488.8" y="180.52" width="7" height="8.80" fill="#6a51a3"/><rect x="488.8" y="164.69" width="7" height="15.83" fill="#807dba"/><rect x="488.8" y="148.85" width="7" height="15.83" fill="#9e9ac8"/><rect x="488.8" y="131.85" width="7" height="17.01" fill="#bcbddc"/><rect x="488.8" y="121.88" width="7" height="9.97" fill="#dadaeb"/><rect x="497.7" y="185.80" width="7" height="12.90" fill="#4a1486"/><rect x="497.7" y="174.66" width="7" height="11.14" fill="#6a51a3"/><rect x="497.7" y="158.82" width="7" height="15.83" fill="#807dba"/><rect x="497.7" y="139.47" width="7" height="19.35" fill="#9e9ac8"/><rect x="497.7" y="122.46" width="7" height="17.01" fill="#bcbddc"/><rect x="497.7" y="109.56" width="7" height="12.90" fill="#dadaeb"/><rect x="506.7" y="185.80" width="7" height="12.90" fill="#4a1486"/><rect x="506.7" y="172.31" width="7" height="13.49" fill="#6a51a3"/><rect x="506.7" y="152.37" width="7" height="19.94" fill="#807dba"/><rect x="506.7" y="131.26" width="7" height="21.11" fill="#9e9ac8"/><rect x="506.7" y="111.91" width="7" height="19.35" fill="#bcbddc"/><rect x="506.7" y="99.01" width="7" height="12.90" fill="#dadaeb"/><rect x="515.6" y="190.49" width="7" height="8.21" fill="#4a1486"/><rect x="515.6" y="181.69" width="7" height="8.80" fill="#6a51a3"/><rect x="515.6" y="168.21" width="7" height="13.49" fill="#807dba"/><rect x="515.6" y="153.54" width="7" height="14.66" fill="#9e9ac8"/><rect x="515.6" y="140.64" width="7" height="12.90" fill="#bcbddc"/><rect x="515.6" y="130.67" width="7" height="9.97" fill="#dadaeb"/><rect x="524.6" y="185.80" width="7" height="12.90" fill="#4a1486"/><rect x="524.6" y="169.38" width="7" height="16.42" fill="#6a51a3"/><rect x="524.6" y="140.64" width="7" height="28.74" fill="#807dba"/><rect x="524.6" y="110.73" width="7" height="29.91" fill="#9e9ac8"/><rect x="524.6" y="82.58" width="7" height="28.15" fill="#bcbddc"/><rect x="524.6" y="65.58" width="7" height="17.01" fill="#dadaeb"/><rect x="533.6" y="184.63" width="7" height="14.07" fill="#4a1486"/><rect x="533.6" y="170.55" width="7" height="14.07" fill="#6a51a3"/><rect x="533.6" y="140.64" width="7" height="29.91" fill="#807dba"/><rect x="533.6" y="115.43" width="7" height="25.22" fill="#9e9ac8"/><rect x="533.6" y="89.62" width="7" height="25.80" fill="#bcbddc"/><rect x="533.6" y="76.72" width="7" height="12.90" fill="#dadaeb"/><rect x="542.5" y="192.84" width="7" height="5.86" fill="#4a1486"/><rect x="542.5" y="183.45" width="7" height="9.38" fill="#6a51a3"/><rect x="542.5" y="174.66" width="7" height="8.80" fill="#dadaeb"/><line x1="38.5" x2="575.5" y1="198.7" y2="198.7" stroke="#a3a3a8" stroke-width="1"/><line x1="140.0" x2="140.0" y1="198.7" y2="203.7" stroke="#a3a3a8" stroke-width="1"/><text x="140.0" y="216.0" text-anchor="middle" class="al">14:45</text><line x1="273.95" x2="273.95" y1="198.7" y2="203.7" stroke="#a3a3a8" stroke-width="1"/><text x="273.95" y="216.0" text-anchor="middle" class="al">15:00</text><line x1="407.9" x2="407.9" y1="198.7" y2="203.7" stroke="#a3a3a8" stroke-width="1"/><text x="407.9" y="216.0" text-anchor="middle" class="al">15:15</text><line x1="541.85" x2="541.85" y1="198.7" y2="203.7" stroke="#a3a3a8" stroke-width="1"/><text x="541.85" y="216.0" text-anchor="middle" class="al">15:30</text></g></svg></div>
<div class="card " style="left:1118px;top:853px;width:581px;height:226px"><div class="ct" style="letter-spacing:0.109px">Subscribed consumers per destination</div><svg class="plot" width="581" height="226" viewBox="0 0 581 226"><g transform="translate(-0.5,-0.7)"><text x="35.5" y="202.7" text-anchor="end" class="al">0</text><line x1="38.5" x2="575.5" y1="171.2" y2="171.2" stroke="#eeeef0" stroke-width="1"/><text x="35.5" y="175.2" text-anchor="end" class="al">5</text><line x1="38.5" x2="575.5" y1="143.6" y2="143.6" stroke="#eeeef0" stroke-width="1"/><text x="35.5" y="147.6" text-anchor="end" class="al">10</text><line x1="38.5" x2="575.5" y1="116.1" y2="116.1" stroke="#eeeef0" stroke-width="1"/><text x="35.5" y="120.1" text-anchor="end" class="al">15</text><line x1="38.5" x2="575.5" y1="88.6" y2="88.6" stroke="#eeeef0" stroke-width="1"/><text x="35.5" y="92.6" text-anchor="end" class="al">20</text><line x1="38.5" x2="575.5" y1="61.0" y2="61.0" stroke="#eeeef0" stroke-width="1"/><text x="35.5" y="65.0" text-anchor="end" class="al">25</text><line x1="38.5" x2="575.5" y1="33.5" y2="33.5" stroke="#eeeef0" stroke-width="1"/><text x="35.5" y="37.5" text-anchor="end" class="al">30</text><rect x="157.1" y="33.5" width="7" height="165.2" fill="#000" fill-opacity="0.15"/><rect x="40.6" y="182.18" width="7" height="16.52" fill="#9acde5"/><rect x="49.6" y="187.69" width="7" height="11.01" fill="#9acde5"/><rect x="58.5" y="176.67" width="7" height="22.03" fill="#9acde5"/><rect x="67.5" y="193.19" width="7" height="5.51" fill="#9acde5"/><rect x="76.5" y="171.17" width="7" height="27.53" fill="#9acde5"/><rect x="85.4" y="187.69" width="7" height="11.01" fill="#9acde5"/><rect x="94.4" y="138.13" width="7" height="60.57" fill="#9acde5"/><rect x="103.3" y="160.15" width="7" height="38.55" fill="#9acde5"/><rect x="112.3" y="182.18" width="7" height="16.52" fill="#9acde5"/><rect x="130.2" y="154.65" width="7" height="44.05" fill="#9acde5"/><rect x="139.2" y="193.19" width="7" height="5.51" fill="#9acde5"/><rect x="148.2" y="171.17" width="7" height="27.53" fill="#9acde5"/><rect x="157.1" y="187.69" width="7" height="11.01" fill="#9acde5"/><rect x="408.1" y="193.19" width="7" height="5.51" fill="#9acde5"/><rect x="417.0" y="193.19" width="7" height="5.51" fill="#9acde5"/><rect x="426.0" y="193.19" width="7" height="5.51" fill="#9acde5"/><rect x="435.0" y="193.19" width="7" height="5.51" fill="#9acde5"/><rect x="443.9" y="193.19" width="7" height="5.51" fill="#9acde5"/><rect x="488.8" y="176.67" width="7" height="22.03" fill="#9acde5"/><rect x="497.7" y="193.19" width="7" height="5.51" fill="#9acde5"/><rect x="506.7" y="165.66" width="7" height="33.04" fill="#9acde5"/><rect x="515.6" y="176.67" width="7" height="22.03" fill="#9acde5"/><rect x="524.6" y="176.67" width="7" height="22.03" fill="#9acde5"/><rect x="533.6" y="72.05" width="7" height="126.65" fill="#9acde5"/><rect x="542.5" y="61.03" width="7" height="137.67" fill="#9acde5"/><line x1="38.5" x2="575.5" y1="198.7" y2="198.7" stroke="#a3a3a8" stroke-width="1"/><line x1="140.0" x2="140.0" y1="198.7" y2="203.7" stroke="#a3a3a8" stroke-width="1"/><text x="140.0" y="216.0" text-anchor="middle" class="al">14:45</text><line x1="273.95" x2="273.95" y1="198.7" y2="203.7" stroke="#a3a3a8" stroke-width="1"/><text x="273.95" y="216.0" text-anchor="middle" class="al">15:00</text><line x1="407.9" x2="407.9" y1="198.7" y2="203.7" stroke="#a3a3a8" stroke-width="1"/><text x="407.9" y="216.0" text-anchor="middle" class="al">15:15</text><line x1="541.85" x2="541.85" y1="198.7" y2="203.7" stroke="#a3a3a8" stroke-width="1"/><text x="541.85" y="216.0" text-anchor="middle" class="al">15:30</text></g></svg></div>
<div class="card " style="left:1712px;top:853px;width:581px;height:226px"><div class="ct" style="letter-spacing:-0.098px">Queue size per queue (messages)</div><svg class="plot" width="581" height="226" viewBox="0 0 581 226"><g transform="translate(-0.5,-0.7)"><text x="35.5" y="202.7" text-anchor="end" class="al">0K</text><line x1="38.5" x2="575.5" y1="171.2" y2="171.2" stroke="#eeeef0" stroke-width="1"/><text x="35.5" y="175.2" text-anchor="end" class="al">2K</text><line x1="38.5" x2="575.5" y1="143.6" y2="143.6" stroke="#eeeef0" stroke-width="1"/><text x="35.5" y="147.6" text-anchor="end" class="al">4K</text><line x1="38.5" x2="575.5" y1="116.1" y2="116.1" stroke="#eeeef0" stroke-width="1"/><text x="35.5" y="120.1" text-anchor="end" class="al">6K</text><line x1="38.5" x2="575.5" y1="88.6" y2="88.6" stroke="#eeeef0" stroke-width="1"/><text x="35.5" y="92.6" text-anchor="end" class="al">8K</text><line x1="38.5" x2="575.5" y1="61.0" y2="61.0" stroke="#eeeef0" stroke-width="1"/><text x="35.5" y="65.0" text-anchor="end" class="al">10K</text><line x1="38.5" x2="575.5" y1="33.5" y2="33.5" stroke="#eeeef0" stroke-width="1"/><text x="35.5" y="37.5" text-anchor="end" class="al">12K</text><rect x="157.1" y="33.5" width="7" height="165.2" fill="#000" fill-opacity="0.15"/><rect x="40.6" y="198.01" width="7" height="0.69" fill="#fdc400"/><rect x="40.6" y="197.60" width="7" height="0.41" fill="#fee9a0"/><rect x="40.6" y="197.25" width="7" height="0.34" fill="#8f73b9"/><rect x="40.6" y="196.84" width="7" height="0.41" fill="#bba4d4"/><rect x="40.6" y="196.50" width="7" height="0.34" fill="#3297cd"/><rect x="40.6" y="196.22" width="7" height="0.28" fill="#9acde5"/><rect x="49.6" y="197.79" width="7" height="0.91" fill="#fdc400"/><rect x="49.6" y="197.13" width="7" height="0.66" fill="#fee9a0"/><rect x="49.6" y="196.73" width="7" height="0.40" fill="#8f73b9"/><rect x="49.6" y="196.25" width="7" height="0.48" fill="#bba4d4"/><rect x="49.6" y="195.85" width="7" height="0.40" fill="#3297cd"/><rect x="49.6" y="195.53" width="7" height="0.32" fill="#9acde5"/><rect x="58.5" y="197.57" width="7" height="1.13" fill="#fdc400"/><rect x="58.5" y="196.66" width="7" height="0.91" fill="#fee9a0"/><rect x="58.5" y="196.21" width="7" height="0.45" fill="#8f73b9"/><rect x="58.5" y="195.66" width="7" height="0.55" fill="#bba4d4"/><rect x="58.5" y="195.21" width="7" height="0.45" fill="#3297cd"/><rect x="58.5" y="194.85" width="7" height="0.36" fill="#9acde5"/><rect x="67.5" y="197.35" width="7" height="1.35" fill="#fdc400"/><rect x="67.5" y="196.19" width="7" height="1.16" fill="#fee9a0"/><rect x="67.5" y="195.69" width="7" height="0.51" fill="#8f73b9"/><rect x="67.5" y="195.07" width="7" height="0.61" fill="#bba4d4"/><rect x="67.5" y="194.56" width="7" height="0.51" fill="#3297cd"/><rect x="67.5" y="194.16" width="7" height="0.41" fill="#9acde5"/><rect x="76.5" y="197.13" width="7" height="1.57" fill="#fdc400"/><rect x="76.5" y="195.73" width="7" height="1.40" fill="#fee9a0"/><rect x="76.5" y="195.16" width="7" height="0.56" fill="#8f73b9"/><rect x="76.5" y="194.48" width="7" height="0.68" fill="#bba4d4"/><rect x="76.5" y="193.92" width="7" height="0.56" fill="#3297cd"/><rect x="76.5" y="193.47" width="7" height="0.45" fill="#9acde5"/><rect x="85.4" y="196.91" width="7" height="1.79" fill="#fdc400"/><rect x="85.4" y="195.26" width="7" height="1.65" fill="#fee9a0"/><rect x="85.4" y="194.26" width="7" height="1.00" fill="#8f73b9"/><rect x="85.4" y="193.06" width="7" height="1.20" fill="#bba4d4"/><rect x="85.4" y="192.06" width="7" height="1.00" fill="#3297cd"/><rect x="85.4" y="191.27" width="7" height="0.80" fill="#9acde5"/><rect x="94.4" y="195.95" width="7" height="2.75" fill="#fdc400"/><rect x="94.4" y="193.19" width="7" height="2.75" fill="#fee9a0"/><rect x="94.4" y="192.16" width="7" height="1.03" fill="#8f73b9"/><rect x="94.4" y="190.92" width="7" height="1.24" fill="#bba4d4"/><rect x="94.4" y="189.89" width="7" height="1.03" fill="#3297cd"/><rect x="94.4" y="189.06" width="7" height="0.83" fill="#9acde5"/><rect x="103.3" y="194.29" width="7" height="4.41" fill="#fdc400"/><rect x="103.3" y="189.75" width="7" height="4.54" fill="#fee9a0"/><rect x="103.3" y="188.55" width="7" height="1.20" fill="#8f73b9"/><rect x="103.3" y="187.10" width="7" height="1.45" fill="#bba4d4"/><rect x="103.3" y="185.90" width="7" height="1.20" fill="#3297cd"/><rect x="103.3" y="184.93" width="7" height="0.96" fill="#9acde5"/><rect x="112.3" y="192.71" width="7" height="5.99" fill="#fdc400"/><rect x="112.3" y="186.17" width="7" height="6.54" fill="#fee9a0"/><rect x="112.3" y="184.72" width="7" height="1.46" fill="#8f73b9"/><rect x="112.3" y="182.97" width="7" height="1.75" fill="#bba4d4"/><rect x="112.3" y="181.51" width="7" height="1.46" fill="#3297cd"/><rect x="112.3" y="180.34" width="7" height="1.17" fill="#9acde5"/><rect x="121.3" y="191.13" width="7" height="7.57" fill="#fdc400"/><rect x="121.3" y="182.59" width="7" height="8.54" fill="#fee9a0"/><rect x="121.3" y="180.88" width="7" height="1.71" fill="#8f73b9"/><rect x="121.3" y="178.83" width="7" height="2.05" fill="#bba4d4"/><rect x="121.3" y="177.12" width="7" height="1.71" fill="#3297cd"/><rect x="121.3" y="175.76" width="7" height="1.37" fill="#9acde5"/><rect x="130.2" y="188.38" width="7" height="10.32" fill="#fdc400"/><rect x="130.2" y="179.01" width="7" height="9.36" fill="#fee9a0"/><rect x="130.2" y="177.05" width="7" height="1.96" fill="#8f73b9"/><rect x="130.2" y="174.70" width="7" height="2.35" fill="#bba4d4"/><rect x="130.2" y="172.74" width="7" height="1.96" fill="#3297cd"/><rect x="130.2" y="171.17" width="7" height="1.57" fill="#9acde5"/><rect x="139.2" y="186.63" width="7" height="12.07" fill="#fdc400"/><rect x="139.2" y="175.02" width="7" height="11.61" fill="#fee9a0"/><rect x="139.2" y="172.59" width="7" height="2.43" fill="#8f73b9"/><rect x="139.2" y="169.67" width="7" height="2.92" fill="#bba4d4"/><rect x="139.2" y="167.24" width="7" height="2.43" fill="#3297cd"/><rect x="139.2" y="165.29" width="7" height="1.95" fill="#9acde5"/><rect x="148.2" y="184.89" width="7" height="13.81" fill="#fdc400"/><rect x="148.2" y="171.03" width="7" height="13.86" fill="#fee9a0"/><rect x="148.2" y="168.13" width="7" height="2.90" fill="#8f73b9"/><rect x="148.2" y="164.64" width="7" height="3.48" fill="#bba4d4"/><rect x="148.2" y="161.74" width="7" height="2.90" fill="#3297cd"/><rect x="148.2" y="159.42" width="7" height="2.32" fill="#9acde5"/><rect x="157.1" y="183.14" width="7" height="15.56" fill="#fdc400"/><rect x="157.1" y="167.04" width="7" height="16.11" fill="#fee9a0"/><rect x="157.1" y="163.66" width="7" height="3.37" fill="#8f73b9"/><rect x="157.1" y="159.62" width="7" height="4.05" fill="#bba4d4"/><rect x="157.1" y="156.24" width="7" height="3.37" fill="#3297cd"/><rect x="157.1" y="153.55" width="7" height="2.70" fill="#9acde5"/><rect x="166.1" y="181.63" width="7" height="17.07" fill="#fdc400"/><rect x="166.1" y="163.73" width="7" height="17.90" fill="#fee9a0"/><rect x="166.1" y="160.47" width="7" height="3.26" fill="#8f73b9"/><rect x="166.1" y="156.56" width="7" height="3.91" fill="#bba4d4"/><rect x="166.1" y="153.30" width="7" height="3.26" fill="#3297cd"/><rect x="166.1" y="150.69" width="7" height="2.61" fill="#9acde5"/><rect x="175.0" y="180.11" width="7" height="18.59" fill="#fdc400"/><rect x="175.0" y="160.43" width="7" height="19.69" fill="#fee9a0"/><rect x="175.0" y="157.28" width="7" height="3.15" fill="#8f73b9"/><rect x="175.0" y="153.50" width="7" height="3.78" fill="#bba4d4"/><rect x="175.0" y="150.36" width="7" height="3.15" fill="#3297cd"/><rect x="175.0" y="147.84" width="7" height="2.52" fill="#9acde5"/><rect x="184.0" y="178.39" width="7" height="20.31" fill="#fdc400"/><rect x="184.0" y="157.44" width="7" height="20.95" fill="#fee9a0"/><rect x="184.0" y="154.33" width="7" height="3.11" fill="#8f73b9"/><rect x="184.0" y="150.59" width="7" height="3.74" fill="#bba4d4"/><rect x="184.0" y="147.47" width="7" height="3.11" fill="#3297cd"/><rect x="184.0" y="144.98" width="7" height="2.49" fill="#9acde5"/><rect x="193.0" y="176.67" width="7" height="22.03" fill="#fdc400"/><rect x="193.0" y="154.46" width="7" height="22.22" fill="#fee9a0"/><rect x="193.0" y="151.37" width="7" height="3.08" fill="#8f73b9"/><rect x="193.0" y="147.68" width="7" height="3.70" fill="#bba4d4"/><rect x="193.0" y="144.59" width="7" height="3.08" fill="#3297cd"/><rect x="193.0" y="142.13" width="7" height="2.47" fill="#9acde5"/><rect x="201.9" y="174.95" width="7" height="23.75" fill="#fdc400"/><rect x="201.9" y="151.47" width="7" height="23.48" fill="#fee9a0"/><rect x="201.9" y="148.42" width="7" height="3.05" fill="#8f73b9"/><rect x="201.9" y="144.76" width="7" height="3.66" fill="#bba4d4"/><rect x="201.9" y="141.71" width="7" height="3.05" fill="#3297cd"/><rect x="201.9" y="139.27" width="7" height="2.44" fill="#9acde5"/><rect x="210.9" y="173.23" width="7" height="25.47" fill="#fdc400"/><rect x="210.9" y="148.48" width="7" height="24.75" fill="#fee9a0"/><rect x="210.9" y="145.47" width="7" height="3.02" fill="#8f73b9"/><rect x="210.9" y="141.85" width="7" height="3.62" fill="#bba4d4"/><rect x="210.9" y="138.83" width="7" height="3.02" fill="#3297cd"/><rect x="210.9" y="136.42" width="7" height="2.41" fill="#9acde5"/><rect x="219.9" y="171.51" width="7" height="27.19" fill="#fdc400"/><rect x="219.9" y="145.50" width="7" height="26.01" fill="#fee9a0"/><rect x="219.9" y="142.51" width="7" height="2.98" fill="#8f73b9"/><rect x="219.9" y="138.93" width="7" height="3.58" fill="#bba4d4"/><rect x="219.9" y="135.95" width="7" height="2.98" fill="#3297cd"/><rect x="219.9" y="133.57" width="7" height="2.39" fill="#9acde5"/><rect x="228.8" y="169.79" width="7" height="28.91" fill="#fdc400"/><rect x="228.8" y="142.51" width="7" height="27.28" fill="#fee9a0"/><rect x="228.8" y="139.56" width="7" height="2.95" fill="#8f73b9"/><rect x="228.8" y="136.02" width="7" height="3.54" fill="#bba4d4"/><rect x="228.8" y="133.07" width="7" height="2.95" fill="#3297cd"/><rect x="228.8" y="130.71" width="7" height="2.36" fill="#9acde5"/><rect x="237.8" y="168.07" width="7" height="30.63" fill="#fdc400"/><rect x="237.8" y="139.52" width="7" height="28.54" fill="#fee9a0"/><rect x="237.8" y="136.61" width="7" height="2.92" fill="#8f73b9"/><rect x="237.8" y="133.11" width="7" height="3.50" fill="#bba4d4"/><rect x="237.8" y="130.19" width="7" height="2.92" fill="#3297cd"/><rect x="237.8" y="127.86" width="7" height="2.33" fill="#9acde5"/><rect x="246.7" y="166.35" width="7" height="32.35" fill="#fdc400"/><rect x="246.7" y="136.54" width="7" height="29.81" fill="#fee9a0"/><rect x="246.7" y="133.65" width="7" height="2.88" fill="#8f73b9"/><rect x="246.7" y="130.19" width="7" height="3.46" fill="#bba4d4"/><rect x="246.7" y="127.31" width="7" height="2.88" fill="#3297cd"/><rect x="246.7" y="125.00" width="7" height="2.31" fill="#9acde5"/><rect x="255.7" y="164.63" width="7" height="34.07" fill="#fdc400"/><rect x="255.7" y="133.55" width="7" height="31.08" fill="#fee9a0"/><rect x="255.7" y="130.70" width="7" height="2.85" fill="#8f73b9"/><rect x="255.7" y="127.28" width="7" height="3.42" fill="#bba4d4"/><rect x="255.7" y="124.43" width="7" height="2.85" fill="#3297cd"/><rect x="255.7" y="122.15" width="7" height="2.28" fill="#9acde5"/><rect x="264.7" y="162.91" width="7" height="35.79" fill="#fdc400"/><rect x="264.7" y="130.57" width="7" height="32.34" fill="#fee9a0"/><rect x="264.7" y="127.75" width="7" height="2.82" fill="#8f73b9"/><rect x="264.7" y="124.37" width="7" height="3.38" fill="#bba4d4"/><rect x="264.7" y="121.55" width="7" height="2.82" fill="#3297cd"/><rect x="264.7" y="119.29" width="7" height="2.25" fill="#9acde5"/><rect x="273.6" y="161.19" width="7" height="37.51" fill="#fdc400"/><rect x="273.6" y="127.58" width="7" height="33.61" fill="#fee9a0"/><rect x="273.6" y="124.79" width="7" height="2.78" fill="#8f73b9"/><rect x="273.6" y="121.45" width="7" height="3.34" fill="#bba4d4"/><rect x="273.6" y="118.67" width="7" height="2.78" fill="#3297cd"/><rect x="273.6" y="116.44" width="7" height="2.23" fill="#9acde5"/><rect x="282.6" y="159.47" width="7" height="39.23" fill="#fdc400"/><rect x="282.6" y="124.59" width="7" height="34.87" fill="#fee9a0"/><rect x="282.6" y="121.84" width="7" height="2.75" fill="#8f73b9"/><rect x="282.6" y="118.54" width="7" height="3.30" fill="#bba4d4"/><rect x="282.6" y="115.79" width="7" height="2.75" fill="#3297cd"/><rect x="282.6" y="113.59" width="7" height="2.20" fill="#9acde5"/><rect x="291.6" y="157.74" width="7" height="40.96" fill="#fdc400"/><rect x="291.6" y="121.61" width="7" height="36.14" fill="#fee9a0"/><rect x="291.6" y="118.89" width="7" height="2.72" fill="#8f73b9"/><rect x="291.6" y="115.63" width="7" height="3.26" fill="#bba4d4"/><rect x="291.6" y="112.91" width="7" height="2.72" fill="#3297cd"/><rect x="291.6" y="110.73" width="7" height="2.18" fill="#9acde5"/><rect x="300.5" y="156.02" width="7" height="42.68" fill="#fdc400"/><rect x="300.5" y="117.78" width="7" height="38.24" fill="#fee9a0"/><rect x="300.5" y="114.98" width="7" height="2.80" fill="#8f73b9"/><rect x="300.5" y="111.62" width="7" height="3.36" fill="#bba4d4"/><rect x="300.5" y="108.83" width="7" height="2.80" fill="#3297cd"/><rect x="300.5" y="106.59" width="7" height="2.24" fill="#9acde5"/><rect x="309.5" y="154.30" width="7" height="44.40" fill="#fdc400"/><rect x="309.5" y="113.96" width="7" height="40.34" fill="#fee9a0"/><rect x="309.5" y="111.08" width="7" height="2.88" fill="#8f73b9"/><rect x="309.5" y="107.62" width="7" height="3.46" fill="#bba4d4"/><rect x="309.5" y="104.74" width="7" height="2.88" fill="#3297cd"/><rect x="309.5" y="102.44" width="7" height="2.30" fill="#9acde5"/><rect x="318.5" y="152.58" width="7" height="46.12" fill="#fdc400"/><rect x="318.5" y="110.13" width="7" height="42.45" fill="#fee9a0"/><rect x="318.5" y="107.17" width="7" height="2.96" fill="#8f73b9"/><rect x="318.5" y="103.62" width="7" height="3.55" fill="#bba4d4"/><rect x="318.5" y="100.66" width="7" height="2.96" fill="#3297cd"/><rect x="318.5" y="98.30" width="7" height="2.37" fill="#9acde5"/><rect x="327.4" y="150.86" width="7" height="47.84" fill="#fdc400"/><rect x="327.4" y="106.31" width="7" height="44.55" fill="#fee9a0"/><rect x="327.4" y="103.27" width="7" height="3.04" fill="#8f73b9"/><rect x="327.4" y="99.62" width="7" height="3.65" fill="#bba4d4"/><rect x="327.4" y="96.58" width="7" height="3.04" fill="#3297cd"/><rect x="327.4" y="94.15" width="7" height="2.43" fill="#9acde5"/><rect x="336.4" y="149.14" width="7" height="49.56" fill="#fdc400"/><rect x="336.4" y="102.49" width="7" height="46.65" fill="#fee9a0"/><rect x="336.4" y="99.37" width="7" height="3.12" fill="#8f73b9"/><rect x="336.4" y="95.62" width="7" height="3.74" fill="#bba4d4"/><rect x="336.4" y="92.50" width="7" height="3.12" fill="#3297cd"/><rect x="336.4" y="90.00" width="7" height="2.50" fill="#9acde5"/><rect x="345.3" y="147.42" width="7" height="51.28" fill="#fdc400"/><rect x="345.3" y="98.66" width="7" height="48.76" fill="#fee9a0"/><rect x="345.3" y="95.46" width="7" height="3.20" fill="#8f73b9"/><rect x="345.3" y="91.62" width="7" height="3.84" fill="#bba4d4"/><rect x="345.3" y="88.42" width="7" height="3.20" fill="#3297cd"/><rect x="345.3" y="85.86" width="7" height="2.56" fill="#9acde5"/><rect x="354.3" y="145.70" width="7" height="53.00" fill="#fdc400"/><rect x="354.3" y="94.84" width="7" height="50.86" fill="#fee9a0"/><rect x="354.3" y="91.56" width="7" height="3.28" fill="#8f73b9"/><rect x="354.3" y="87.62" width="7" height="3.94" fill="#bba4d4"/><rect x="354.3" y="84.34" width="7" height="3.28" fill="#3297cd"/><rect x="354.3" y="81.71" width="7" height="2.62" fill="#9acde5"/><rect x="363.3" y="143.98" width="7" height="54.72" fill="#fdc400"/><rect x="363.3" y="91.01" width="7" height="52.96" fill="#fee9a0"/><rect x="363.3" y="87.65" width="7" height="3.36" fill="#8f73b9"/><rect x="363.3" y="83.62" width="7" height="4.03" fill="#bba4d4"/><rect x="363.3" y="80.26" width="7" height="3.36" fill="#3297cd"/><rect x="363.3" y="77.57" width="7" height="2.69" fill="#9acde5"/><rect x="372.2" y="142.26" width="7" height="56.44" fill="#fdc400"/><rect x="372.2" y="87.19" width="7" height="55.07" fill="#fee9a0"/><rect x="372.2" y="83.75" width="7" height="3.44" fill="#8f73b9"/><rect x="372.2" y="79.62" width="7" height="4.13" fill="#bba4d4"/><rect x="372.2" y="76.18" width="7" height="3.44" fill="#3297cd"/><rect x="372.2" y="73.42" width="7" height="2.75" fill="#9acde5"/><rect x="381.2" y="141.57" width="7" height="57.13" fill="#fdc400"/><rect x="381.2" y="85.95" width="7" height="55.62" fill="#fee9a0"/><rect x="381.2" y="82.13" width="7" height="3.82" fill="#8f73b9"/><rect x="381.2" y="77.55" width="7" height="4.58" fill="#bba4d4"/><rect x="381.2" y="73.73" width="7" height="3.82" fill="#3297cd"/><rect x="381.2" y="70.67" width="7" height="3.06" fill="#9acde5"/><rect x="390.2" y="141.61" width="7" height="57.09" fill="#fdc400"/><rect x="390.2" y="84.71" width="7" height="56.89" fill="#fee9a0"/><rect x="390.2" y="81.17" width="7" height="3.54" fill="#8f73b9"/><rect x="390.2" y="76.93" width="7" height="4.25" fill="#bba4d4"/><rect x="390.2" y="73.39" width="7" height="3.54" fill="#3297cd"/><rect x="390.2" y="70.56" width="7" height="2.83" fill="#9acde5"/><rect x="399.1" y="141.64" width="7" height="57.06" fill="#fdc400"/><rect x="399.1" y="84.54" width="7" height="57.10" fill="#fee9a0"/><rect x="399.1" y="81.02" width="7" height="3.52" fill="#8f73b9"/><rect x="399.1" y="76.79" width="7" height="4.23" fill="#bba4d4"/><rect x="399.1" y="73.27" width="7" height="3.52" fill="#3297cd"/><rect x="399.1" y="70.45" width="7" height="2.82" fill="#9acde5"/><rect x="408.1" y="141.68" width="7" height="57.02" fill="#fdc400"/><rect x="408.1" y="84.38" width="7" height="57.31" fill="#fee9a0"/><rect x="408.1" y="80.87" width="7" height="3.51" fill="#8f73b9"/><rect x="408.1" y="76.66" width="7" height="4.21" fill="#bba4d4"/><rect x="408.1" y="73.15" width="7" height="3.51" fill="#3297cd"/><rect x="408.1" y="70.34" width="7" height="2.81" fill="#9acde5"/><rect x="417.0" y="141.72" width="7" height="56.98" fill="#fdc400"/><rect x="417.0" y="84.21" width="7" height="57.51" fill="#fee9a0"/><rect x="417.0" y="80.71" width="7" height="3.49" fill="#8f73b9"/><rect x="417.0" y="76.52" width="7" height="4.19" fill="#bba4d4"/><rect x="417.0" y="73.03" width="7" height="3.49" fill="#3297cd"/><rect x="417.0" y="70.23" width="7" height="2.80" fill="#9acde5"/><rect x="426.0" y="141.76" width="7" height="56.94" fill="#fdc400"/><rect x="426.0" y="84.04" width="7" height="57.72" fill="#fee9a0"/><rect x="426.0" y="80.56" width="7" height="3.48" fill="#8f73b9"/><rect x="426.0" y="76.38" width="7" height="4.18" fill="#bba4d4"/><rect x="426.0" y="72.90" width="7" height="3.48" fill="#3297cd"/><rect x="426.0" y="70.12" width="7" height="2.78" fill="#9acde5"/><rect x="435.0" y="141.80" width="7" height="56.90" fill="#fdc400"/><rect x="435.0" y="83.87" width="7" height="57.93" fill="#fee9a0"/><rect x="435.0" y="80.41" width="7" height="3.47" fill="#8f73b9"/><rect x="435.0" y="76.25" width="7" height="4.16" fill="#bba4d4"/><rect x="435.0" y="72.78" width="7" height="3.47" fill="#3297cd"/><rect x="435.0" y="70.01" width="7" height="2.77" fill="#9acde5"/><rect x="443.9" y="141.84" width="7" height="56.86" fill="#fdc400"/><rect x="443.9" y="83.70" width="7" height="58.13" fill="#fee9a0"/><rect x="443.9" y="80.25" width="7" height="3.45" fill="#8f73b9"/><rect x="443.9" y="76.11" width="7" height="4.14" fill="#bba4d4"/><rect x="443.9" y="72.66" width="7" height="3.45" fill="#3297cd"/><rect x="443.9" y="69.90" width="7" height="2.76" fill="#9acde5"/><rect x="452.9" y="141.87" width="7" height="56.83" fill="#fdc400"/><rect x="452.9" y="83.53" width="7" height="58.34" fill="#fee9a0"/><rect x="452.9" y="80.10" width="7" height="3.44" fill="#8f73b9"/><rect x="452.9" y="75.97" width="7" height="4.12" fill="#bba4d4"/><rect x="452.9" y="72.54" width="7" height="3.44" fill="#3297cd"/><rect x="452.9" y="69.79" width="7" height="2.75" fill="#9acde5"/><rect x="461.9" y="141.91" width="7" height="56.79" fill="#fdc400"/><rect x="461.9" y="83.37" width="7" height="58.55" fill="#fee9a0"/><rect x="461.9" y="79.94" width="7" height="3.42" fill="#8f73b9"/><rect x="461.9" y="75.84" width="7" height="4.11" fill="#bba4d4"/><rect x="461.9" y="72.42" width="7" height="3.42" fill="#3297cd"/><rect x="461.9" y="69.68" width="7" height="2.74" fill="#9acde5"/><rect x="470.8" y="141.95" width="7" height="56.75" fill="#fdc400"/><rect x="470.8" y="83.20" width="7" height="58.75" fill="#fee9a0"/><rect x="470.8" y="79.79" width="7" height="3.41" fill="#8f73b9"/><rect x="470.8" y="75.70" width="7" height="4.09" fill="#bba4d4"/><rect x="470.8" y="72.29" width="7" height="3.41" fill="#3297cd"/><rect x="470.8" y="69.57" width="7" height="2.73" fill="#9acde5"/><rect x="479.8" y="141.99" width="7" height="56.71" fill="#fdc400"/><rect x="479.8" y="83.82" width="7" height="58.17" fill="#fee9a0"/><rect x="479.8" y="80.53" width="7" height="3.29" fill="#8f73b9"/><rect x="479.8" y="76.59" width="7" height="3.94" fill="#bba4d4"/><rect x="479.8" y="73.30" width="7" height="3.29" fill="#3297cd"/><rect x="479.8" y="70.67" width="7" height="2.63" fill="#9acde5"/><rect x="488.8" y="142.03" width="7" height="56.67" fill="#fdc400"/><rect x="488.8" y="84.44" width="7" height="57.59" fill="#fee9a0"/><rect x="488.8" y="81.68" width="7" height="2.75" fill="#8f73b9"/><rect x="488.8" y="78.38" width="7" height="3.30" fill="#bba4d4"/><rect x="488.8" y="75.63" width="7" height="2.75" fill="#3297cd"/><rect x="488.8" y="73.42" width="7" height="2.20" fill="#9acde5"/><rect x="497.7" y="142.07" width="7" height="56.63" fill="#fdc400"/><rect x="497.7" y="84.78" width="7" height="57.28" fill="#fee9a0"/><rect x="497.7" y="82.40" width="7" height="2.38" fill="#8f73b9"/><rect x="497.7" y="79.54" width="7" height="2.86" fill="#bba4d4"/><rect x="497.7" y="77.16" width="7" height="2.38" fill="#3297cd"/><rect x="497.7" y="75.26" width="7" height="1.90" fill="#9acde5"/><rect x="506.7" y="142.10" width="7" height="56.60" fill="#fdc400"/><rect x="506.7" y="85.12" width="7" height="56.98" fill="#fee9a0"/><rect x="506.7" y="83.12" width="7" height="2.01" fill="#8f73b9"/><rect x="506.7" y="80.71" width="7" height="2.41" fill="#bba4d4"/><rect x="506.7" y="78.70" width="7" height="2.01" fill="#3297cd"/><rect x="506.7" y="77.09" width="7" height="1.61" fill="#9acde5"/><rect x="515.6" y="142.14" width="7" height="56.56" fill="#fdc400"/><rect x="515.6" y="85.47" width="7" height="56.67" fill="#fee9a0"/><rect x="515.6" y="83.83" width="7" height="1.63" fill="#8f73b9"/><rect x="515.6" y="81.87" width="7" height="1.96" fill="#bba4d4"/><rect x="515.6" y="80.24" width="7" height="1.63" fill="#3297cd"/><rect x="515.6" y="78.93" width="7" height="1.31" fill="#9acde5"/><rect x="524.6" y="142.18" width="7" height="56.52" fill="#fdc400"/><rect x="524.6" y="85.81" width="7" height="56.37" fill="#fee9a0"/><rect x="524.6" y="84.66" width="7" height="1.15" fill="#8f73b9"/><rect x="524.6" y="83.28" width="7" height="1.38" fill="#bba4d4"/><rect x="524.6" y="82.12" width="7" height="1.15" fill="#3297cd"/><rect x="524.6" y="81.20" width="7" height="0.92" fill="#9acde5"/><rect x="533.6" y="142.22" width="7" height="56.48" fill="#fdc400"/><rect x="533.6" y="86.16" width="7" height="56.06" fill="#fee9a0"/><rect x="533.6" y="85.49" width="7" height="0.67" fill="#8f73b9"/><rect x="533.6" y="84.68" width="7" height="0.81" fill="#bba4d4"/><rect x="533.6" y="84.01" width="7" height="0.67" fill="#3297cd"/><rect x="533.6" y="83.47" width="7" height="0.54" fill="#9acde5"/><rect x="542.5" y="142.26" width="7" height="56.44" fill="#fdc400"/><rect x="542.5" y="86.50" width="7" height="55.75" fill="#fee9a0"/><rect x="542.5" y="85.74" width="7" height="0.76" fill="#8f73b9"/><rect x="542.5" y="84.84" width="7" height="0.91" fill="#bba4d4"/><rect x="542.5" y="84.08" width="7" height="0.76" fill="#3297cd"/><rect x="542.5" y="83.47" width="7" height="0.61" fill="#9acde5"/><line x1="38.5" x2="575.5" y1="198.7" y2="198.7" stroke="#a3a3a8" stroke-width="1"/><line x1="140.0" x2="140.0" y1="198.7" y2="203.7" stroke="#a3a3a8" stroke-width="1"/><text x="140.0" y="216.0" text-anchor="middle" class="al">14:45</text><line x1="273.95" x2="273.95" y1="198.7" y2="203.7" stroke="#a3a3a8" stroke-width="1"/><text x="273.95" y="216.0" text-anchor="middle" class="al">15:00</text><line x1="407.9" x2="407.9" y1="198.7" y2="203.7" stroke="#a3a3a8" stroke-width="1"/><text x="407.9" y="216.0" text-anchor="middle" class="al">15:15</text><line x1="541.85" x2="541.85" y1="198.7" y2="203.7" stroke="#a3a3a8" stroke-width="1"/><text x="541.85" y="216.0" text-anchor="middle" class="al">15:30</text></g></svg></div>
<div class="card " style="left:524px;top:1090px;width:581px;height:226px"><div class="ct" style="letter-spacing:0.044px">Total messages sent to consumers</div><svg class="plot" width="581" height="226" viewBox="0 0 581 226"><g transform="translate(-0.5,0.06)"><text x="35.5" y="202.7" text-anchor="end" class="al">0K</text><line x1="38.5" x2="575.5" y1="151.8" y2="151.8" stroke="#eeeef0" stroke-width="1"/><text x="35.5" y="155.8" text-anchor="end" class="al">10K</text><line x1="38.5" x2="575.5" y1="104.8" y2="104.8" stroke="#eeeef0" stroke-width="1"/><text x="35.5" y="108.8" text-anchor="end" class="al">20K</text><line x1="38.5" x2="575.5" y1="57.9" y2="57.9" stroke="#eeeef0" stroke-width="1"/><text x="35.5" y="61.9" text-anchor="end" class="al">30K</text><rect x="157.1" y="33.5" width="7" height="165.2" fill="#000" fill-opacity="0.15"/><rect x="40.6" y="196.35" width="7" height="2.35" fill="#fdc400"/><rect x="40.6" y="194.95" width="7" height="1.41" fill="#fee9a0"/><rect x="40.6" y="192.60" width="7" height="2.35" fill="#8f73b9"/><rect x="40.6" y="189.78" width="7" height="2.82" fill="#bba4d4"/><rect x="40.6" y="187.91" width="7" height="1.88" fill="#3297cd"/><rect x="40.6" y="186.03" width="7" height="1.88" fill="#9acde5"/><rect x="49.6" y="194.48" width="7" height="4.22" fill="#fdc400"/><rect x="49.6" y="192.13" width="7" height="2.35" fill="#fee9a0"/><rect x="49.6" y="188.84" width="7" height="3.29" fill="#8f73b9"/><rect x="49.6" y="184.62" width="7" height="4.22" fill="#bba4d4"/><rect x="49.6" y="180.87" width="7" height="3.75" fill="#3297cd"/><rect x="49.6" y="177.11" width="7" height="3.75" fill="#9acde5"/><rect x="58.5" y="193.54" width="7" height="5.16" fill="#fdc400"/><rect x="58.5" y="189.31" width="7" height="4.22" fill="#fee9a0"/><rect x="58.5" y="183.68" width="7" height="5.63" fill="#8f73b9"/><rect x="58.5" y="178.99" width="7" height="4.69" fill="#bba4d4"/><rect x="58.5" y="173.83" width="7" height="5.16" fill="#3297cd"/><rect x="58.5" y="168.19" width="7" height="5.63" fill="#9acde5"/><rect x="67.5" y="192.60" width="7" height="6.10" fill="#fdc400"/><rect x="67.5" y="186.03" width="7" height="6.57" fill="#fee9a0"/><rect x="67.5" y="179.93" width="7" height="6.10" fill="#8f73b9"/><rect x="67.5" y="172.89" width="7" height="7.04" fill="#bba4d4"/><rect x="67.5" y="165.85" width="7" height="7.04" fill="#3297cd"/><rect x="67.5" y="159.28" width="7" height="6.57" fill="#9acde5"/><rect x="76.5" y="191.19" width="7" height="7.51" fill="#fdc400"/><rect x="76.5" y="183.68" width="7" height="7.51" fill="#fee9a0"/><rect x="76.5" y="175.70" width="7" height="7.98" fill="#8f73b9"/><rect x="76.5" y="167.26" width="7" height="8.45" fill="#bba4d4"/><rect x="76.5" y="159.75" width="7" height="7.51" fill="#3297cd"/><rect x="76.5" y="151.77" width="7" height="7.98" fill="#9acde5"/><rect x="85.4" y="190.25" width="7" height="8.45" fill="#fdc400"/><rect x="85.4" y="181.34" width="7" height="8.92" fill="#fee9a0"/><rect x="85.4" y="172.89" width="7" height="8.45" fill="#8f73b9"/><rect x="85.4" y="163.97" width="7" height="8.92" fill="#bba4d4"/><rect x="85.4" y="153.18" width="7" height="10.79" fill="#3297cd"/><rect x="85.4" y="140.97" width="7" height="12.20" fill="#9acde5"/><rect x="94.4" y="187.91" width="7" height="10.79" fill="#fdc400"/><rect x="94.4" y="177.11" width="7" height="10.79" fill="#fee9a0"/><rect x="94.4" y="165.85" width="7" height="11.26" fill="#8f73b9"/><rect x="94.4" y="155.99" width="7" height="9.86" fill="#bba4d4"/><rect x="94.4" y="141.91" width="7" height="14.08" fill="#3297cd"/><rect x="94.4" y="129.71" width="7" height="12.20" fill="#9acde5"/><rect x="103.3" y="187.91" width="7" height="10.79" fill="#fdc400"/><rect x="103.3" y="174.76" width="7" height="13.14" fill="#fee9a0"/><rect x="103.3" y="164.91" width="7" height="9.86" fill="#8f73b9"/><rect x="103.3" y="151.77" width="7" height="13.14" fill="#bba4d4"/><rect x="103.3" y="139.10" width="7" height="12.67" fill="#3297cd"/><rect x="103.3" y="126.42" width="7" height="12.67" fill="#9acde5"/><rect x="112.3" y="183.68" width="7" height="15.02" fill="#fdc400"/><rect x="112.3" y="169.13" width="7" height="14.55" fill="#fee9a0"/><rect x="112.3" y="152.71" width="7" height="16.43" fill="#8f73b9"/><rect x="112.3" y="139.57" width="7" height="13.14" fill="#bba4d4"/><rect x="112.3" y="125.96" width="7" height="13.61" fill="#3297cd"/><rect x="112.3" y="108.12" width="7" height="17.83" fill="#9acde5"/><rect x="121.3" y="184.62" width="7" height="14.08" fill="#fdc400"/><rect x="121.3" y="170.54" width="7" height="14.08" fill="#fee9a0"/><rect x="121.3" y="157.87" width="7" height="12.67" fill="#8f73b9"/><rect x="121.3" y="144.26" width="7" height="13.61" fill="#bba4d4"/><rect x="121.3" y="126.89" width="7" height="17.36" fill="#3297cd"/><rect x="121.3" y="110.00" width="7" height="16.90" fill="#9acde5"/><rect x="130.2" y="183.68" width="7" height="15.02" fill="#fdc400"/><rect x="130.2" y="164.91" width="7" height="18.77" fill="#fee9a0"/><rect x="130.2" y="145.20" width="7" height="19.71" fill="#8f73b9"/><rect x="130.2" y="128.77" width="7" height="16.43" fill="#bba4d4"/><rect x="130.2" y="110.00" width="7" height="18.77" fill="#3297cd"/><rect x="130.2" y="94.51" width="7" height="15.49" fill="#9acde5"/><rect x="139.2" y="186.50" width="7" height="12.20" fill="#fdc400"/><rect x="139.2" y="173.83" width="7" height="12.67" fill="#fee9a0"/><rect x="139.2" y="161.15" width="7" height="12.67" fill="#8f73b9"/><rect x="139.2" y="149.42" width="7" height="11.73" fill="#bba4d4"/><rect x="139.2" y="136.75" width="7" height="12.67" fill="#3297cd"/><rect x="139.2" y="120.79" width="7" height="15.96" fill="#9acde5"/><rect x="148.2" y="191.19" width="7" height="7.51" fill="#fdc400"/><rect x="148.2" y="179.93" width="7" height="11.26" fill="#fee9a0"/><rect x="148.2" y="170.54" width="7" height="9.39" fill="#8f73b9"/><rect x="148.2" y="160.22" width="7" height="10.32" fill="#bba4d4"/><rect x="148.2" y="149.89" width="7" height="10.33" fill="#3297cd"/><rect x="148.2" y="140.97" width="7" height="8.92" fill="#9acde5"/><rect x="157.1" y="192.60" width="7" height="6.10" fill="#fdc400"/><rect x="157.1" y="185.56" width="7" height="7.04" fill="#fee9a0"/><rect x="157.1" y="181.80" width="7" height="3.75" fill="#8f73b9"/><rect x="157.1" y="175.70" width="7" height="6.10" fill="#bba4d4"/><rect x="157.1" y="170.54" width="7" height="5.16" fill="#3297cd"/><rect x="157.1" y="164.91" width="7" height="5.63" fill="#9acde5"/><rect x="166.1" y="198.23" width="7" height="0.47" fill="#bba4d4"/><rect x="166.1" y="196.82" width="7" height="1.41" fill="#3297cd"/><rect x="408.1" y="197.76" width="7" height="0.94" fill="#3297cd"/><rect x="417.0" y="197.76" width="7" height="0.94" fill="#fee9a0"/><rect x="417.0" y="196.35" width="7" height="1.41" fill="#8f73b9"/><rect x="417.0" y="195.41" width="7" height="0.94" fill="#bba4d4"/><rect x="417.0" y="194.48" width="7" height="0.94" fill="#9acde5"/><rect x="426.0" y="197.76" width="7" height="0.94" fill="#fee9a0"/><rect x="426.0" y="196.35" width="7" height="1.41" fill="#8f73b9"/><rect x="426.0" y="195.41" width="7" height="0.94" fill="#bba4d4"/><rect x="426.0" y="194.01" width="7" height="1.41" fill="#3297cd"/><rect x="426.0" y="193.54" width="7" height="0.47" fill="#9acde5"/><rect x="435.0" y="197.76" width="7" height="0.94" fill="#fee9a0"/><rect x="435.0" y="196.35" width="7" height="1.41" fill="#8f73b9"/><rect x="435.0" y="194.95" width="7" height="1.41" fill="#bba4d4"/><rect x="435.0" y="193.54" width="7" height="1.41" fill="#9acde5"/><rect x="443.9" y="197.76" width="7" height="0.94" fill="#fee9a0"/><rect x="443.9" y="196.82" width="7" height="0.94" fill="#8f73b9"/><rect x="443.9" y="195.88" width="7" height="0.94" fill="#bba4d4"/><rect x="443.9" y="194.48" width="7" height="1.41" fill="#3297cd"/><rect x="452.9" y="197.76" width="7" height="0.94" fill="#fee9a0"/><rect x="452.9" y="196.35" width="7" height="1.41" fill="#8f73b9"/><rect x="452.9" y="194.48" width="7" height="1.88" fill="#bba4d4"/><rect x="452.9" y="193.54" width="7" height="0.94" fill="#9acde5"/><rect x="461.9" y="198.23" width="7" height="0.47" fill="#fee9a0"/><rect x="461.9" y="197.29" width="7" height="0.94" fill="#8f73b9"/><rect x="461.9" y="196.82" width="7" height="0.47" fill="#bba4d4"/><rect x="461.9" y="195.41" width="7" height="1.41" fill="#3297cd"/><rect x="470.8" y="193.54" width="7" height="5.16" fill="#fdc400"/><rect x="470.8" y="187.91" width="7" height="5.63" fill="#fee9a0"/><rect x="470.8" y="174.76" width="7" height="13.14" fill="#8f73b9"/><rect x="470.8" y="165.85" width="7" height="8.92" fill="#bba4d4"/><rect x="470.8" y="153.65" width="7" height="12.20" fill="#3297cd"/><rect x="470.8" y="146.14" width="7" height="7.51" fill="#9acde5"/><rect x="479.8" y="186.03" width="7" height="12.67" fill="#fdc400"/><rect x="479.8" y="170.54" width="7" height="15.49" fill="#fee9a0"/><rect x="479.8" y="146.61" width="7" height="23.94" fill="#8f73b9"/><rect x="479.8" y="118.45" width="7" height="28.16" fill="#bba4d4"/><rect x="479.8" y="94.98" width="7" height="23.47" fill="#3297cd"/><rect x="479.8" y="81.37" width="7" height="13.61" fill="#9acde5"/><rect x="488.8" y="179.93" width="7" height="18.77" fill="#fdc400"/><rect x="488.8" y="164.91" width="7" height="15.02" fill="#fee9a0"/><rect x="488.8" y="141.91" width="7" height="23.00" fill="#8f73b9"/><rect x="488.8" y="115.63" width="7" height="26.28" fill="#bba4d4"/><rect x="488.8" y="90.29" width="7" height="25.34" fill="#3297cd"/><rect x="488.8" y="72.45" width="7" height="17.83" fill="#9acde5"/><rect x="497.7" y="178.99" width="7" height="19.71" fill="#fdc400"/><rect x="497.7" y="161.62" width="7" height="17.36" fill="#fee9a0"/><rect x="497.7" y="145.20" width="7" height="16.43" fill="#8f73b9"/><rect x="497.7" y="125.49" width="7" height="19.71" fill="#bba4d4"/><rect x="497.7" y="105.77" width="7" height="19.71" fill="#3297cd"/><rect x="497.7" y="84.66" width="7" height="21.12" fill="#9acde5"/><rect x="506.7" y="181.34" width="7" height="17.36" fill="#fdc400"/><rect x="506.7" y="162.56" width="7" height="18.77" fill="#fee9a0"/><rect x="506.7" y="143.79" width="7" height="18.77" fill="#8f73b9"/><rect x="506.7" y="125.49" width="7" height="18.30" fill="#bba4d4"/><rect x="506.7" y="106.71" width="7" height="18.77" fill="#3297cd"/><rect x="506.7" y="88.88" width="7" height="17.83" fill="#9acde5"/><rect x="515.6" y="188.84" width="7" height="9.86" fill="#fdc400"/><rect x="515.6" y="179.93" width="7" height="8.92" fill="#fee9a0"/><rect x="515.6" y="170.54" width="7" height="9.39" fill="#8f73b9"/><rect x="515.6" y="161.15" width="7" height="9.39" fill="#bba4d4"/><rect x="515.6" y="152.71" width="7" height="8.45" fill="#3297cd"/><rect x="515.6" y="142.85" width="7" height="9.86" fill="#9acde5"/><rect x="524.6" y="182.27" width="7" height="16.43" fill="#fdc400"/><rect x="524.6" y="163.97" width="7" height="18.30" fill="#fee9a0"/><rect x="524.6" y="148.01" width="7" height="15.96" fill="#8f73b9"/><rect x="524.6" y="132.06" width="7" height="15.96" fill="#bba4d4"/><rect x="524.6" y="117.98" width="7" height="14.08" fill="#3297cd"/><rect x="524.6" y="100.14" width="7" height="17.83" fill="#9acde5"/><rect x="533.6" y="186.03" width="7" height="12.67" fill="#fdc400"/><rect x="533.6" y="172.89" width="7" height="13.14" fill="#fee9a0"/><rect x="533.6" y="165.85" width="7" height="7.04" fill="#8f73b9"/><rect x="533.6" y="162.56" width="7" height="3.29" fill="#bba4d4"/><rect x="533.6" y="157.40" width="7" height="5.16" fill="#3297cd"/><rect x="533.6" y="145.20" width="7" height="12.20" fill="#9acde5"/><rect x="542.5" y="193.54" width="7" height="5.16" fill="#fdc400"/><rect x="542.5" y="188.84" width="7" height="4.69" fill="#fee9a0"/><rect x="542.5" y="182.27" width="7" height="6.57" fill="#9acde5"/><line x1="38.5" x2="575.5" y1="198.7" y2="198.7" stroke="#a3a3a8" stroke-width="1"/><line x1="140.0" x2="140.0" y1="198.7" y2="203.7" stroke="#a3a3a8" stroke-width="1"/><text x="140.0" y="216.0" text-anchor="middle" class="al">14:45</text><line x1="273.95" x2="273.95" y1="198.7" y2="203.7" stroke="#a3a3a8" stroke-width="1"/><text x="273.95" y="216.0" text-anchor="middle" class="al">15:00</text><line x1="407.9" x2="407.9" y1="198.7" y2="203.7" stroke="#a3a3a8" stroke-width="1"/><text x="407.9" y="216.0" text-anchor="middle" class="al">15:15</text><line x1="541.85" x2="541.85" y1="198.7" y2="203.7" stroke="#a3a3a8" stroke-width="1"/><text x="541.85" y="216.0" text-anchor="middle" class="al">15:30</text></g></svg></div>
<div class="card hov" style="left:1118px;top:1090px;width:581px;height:226px"><div class="ct" style="letter-spacing:0.147px">Avg memory limit usage per destination (%)</div><svg class="abs" style="left:533px;top:7.5px;z-index:3" width="14.5" height="13.5" viewBox="0 0 16 15"><g stroke="#8f8e96" stroke-width="1.1" fill="none"><path d="M1 4.5 V1 H4.5 M1 1 L5.6 5.6"/><path d="M15 4.5 V1 H11.5 M15 1 L10.4 5.6"/><path d="M1 10.5 V14 H4.5 M1 14 L5.6 9.4"/><path d="M15 10.5 V14 H11.5 M15 14 L10.4 9.4"/></g></svg><svg class="abs" style="left:560.5px;top:8px;z-index:3" width="12" height="13.7" viewBox="0 0 14 16"><g stroke="#8f8e96" stroke-width="1.2" fill="none"><path d="M4 7 H1.2 V14.6 H12.8 V7 H10"/><path d="M7 10.5 V1.5 M3.8 4.6 L7 1.4 L10.2 4.6"/></g></svg><svg class="plot" width="581" height="226" viewBox="0 0 581 226"><g transform="translate(-0.5,0.06)"><text x="35.5" y="202.7" text-anchor="end" class="al">0</text><line x1="38.5" x2="575.5" y1="171.2" y2="171.2" stroke="#eeeef0" stroke-width="1"/><text x="35.5" y="175.2" text-anchor="end" class="al">20</text><line x1="38.5" x2="575.5" y1="143.6" y2="143.6" stroke="#eeeef0" stroke-width="1"/><text x="35.5" y="147.6" text-anchor="end" class="al">40</text><line x1="38.5" x2="575.5" y1="116.1" y2="116.1" stroke="#eeeef0" stroke-width="1"/><text x="35.5" y="120.1" text-anchor="end" class="al">60</text><line x1="38.5" x2="575.5" y1="88.6" y2="88.6" stroke="#eeeef0" stroke-width="1"/><text x="35.5" y="92.6" text-anchor="end" class="al">80</text><line x1="38.5" x2="575.5" y1="61.0" y2="61.0" stroke="#eeeef0" stroke-width="1"/><text x="35.5" y="65.0" text-anchor="end" class="al">100</text><line x1="38.5" x2="575.5" y1="33.5" y2="33.5" stroke="#eeeef0" stroke-width="1"/><text x="35.5" y="37.5" text-anchor="end" class="al">120</text><polygon points="38.5,198.7 38.5,189.1 49.9,181.4 67.8,167.3 85.7,152.0 94.6,148.2 103.5,129.2 112.4,118.9 121.4,113.8 130.3,107.8 139.2,98.5 148.2,87.2 157.1,72.2 166.0,67.4 416.1,67.4 433.9,67.9 460.7,68.7 469.6,71.2 478.6,79.3 487.5,88.6 496.4,99.7 505.4,110.0 514.3,118.4 523.2,132.9 532.1,148.2 541.9,150.8 541.85,198.7" fill="#3c9ad0" fill-opacity="0.5"/><line x1="38.5" x2="575.5" y1="198.7" y2="198.7" stroke="#a3a3a8" stroke-width="1"/><line x1="140.0" x2="140.0" y1="198.7" y2="203.7" stroke="#a3a3a8" stroke-width="1"/><text x="140.0" y="216.0" text-anchor="middle" class="al">14:45</text><line x1="273.95" x2="273.95" y1="198.7" y2="203.7" stroke="#a3a3a8" stroke-width="1"/><text x="273.95" y="216.0" text-anchor="middle" class="al">15:00</text><line x1="407.9" x2="407.9" y1="198.7" y2="203.7" stroke="#a3a3a8" stroke-width="1"/><text x="407.9" y="216.0" text-anchor="middle" class="al">15:15</text><line x1="541.85" x2="541.85" y1="198.7" y2="203.7" stroke="#a3a3a8" stroke-width="1"/><text x="541.85" y="216.0" text-anchor="middle" class="al">15:30</text><polyline fill="none" stroke="#3596cf" stroke-width="1.9" points="38.5,189.1 49.9,181.4 67.8,167.3 85.7,152.0 94.6,148.2 103.5,129.2 112.4,118.9 121.4,113.8 130.3,107.8 139.2,98.5 148.2,87.2 157.1,72.2 166.0,67.4 416.1,67.4 433.9,67.9 460.7,68.7 469.6,71.2 478.6,79.3 487.5,88.6 496.4,99.7 505.4,110.0 514.3,118.4 523.2,132.9 532.1,148.2 541.9,150.8"/><line x1="164.5" x2="164.5" y1="33.5" y2="198.7" stroke="#000" stroke-width="2"/><line x1="160.4" y1="71.4" x2="174" y2="95.4" stroke="#111" stroke-width="1"/><circle cx="160.4" cy="71.4" r="3" fill="#000"/><rect x="173.5" y="95.5" width="95" height="19.5" fill="#32424e"/><text x="180.5" y="110" font-family="Liberation Sans, sans-serif" font-size="13.2" font-weight="bold" fill="#fff" letter-spacing="0.05">Total: 92.5 %</text><path d="M156.9 205 L160.4 200.5 L163.9 205 Z" fill="#444"/><rect x="128.3" y="204.5" width="64.5" height="19.5" fill="#444"/><text x="160.4" y="218.8" text-anchor="middle" font-family="Liberation Sans, sans-serif" font-size="13" fill="#fff" letter-spacing="0.2">14:47:00</text></g></svg></div>
<div class="card " style="left:1712px;top:1090px;width:581px;height:226px"><div class="ct" style="letter-spacing:0.089px">Broker message latency per destination (ms)</div><svg class="plot" width="581" height="226" viewBox="0 0 581 226"><g transform="translate(-0.5,0.06)"><text x="35.5" y="202.7" text-anchor="end" class="al">0</text><line x1="38.5" x2="575.5" y1="167.7" y2="167.7" stroke="#eeeef0" stroke-width="1"/><text x="35.5" y="171.7" text-anchor="end" class="al">5</text><line x1="38.5" x2="575.5" y1="136.7" y2="136.7" stroke="#eeeef0" stroke-width="1"/><text x="35.5" y="140.7" text-anchor="end" class="al">10</text><line x1="38.5" x2="575.5" y1="105.7" y2="105.7" stroke="#eeeef0" stroke-width="1"/><text x="35.5" y="109.7" text-anchor="end" class="al">15</text><line x1="38.5" x2="575.5" y1="74.7" y2="74.7" stroke="#eeeef0" stroke-width="1"/><text x="35.5" y="78.7" text-anchor="end" class="al">20</text><line x1="38.5" x2="575.5" y1="43.7" y2="43.7" stroke="#eeeef0" stroke-width="1"/><text x="35.5" y="47.7" text-anchor="end" class="al">25</text><line x1="38.5" x2="575.5" y1="198.7" y2="198.7" stroke="#a3a3a8" stroke-width="1"/><line x1="140.0" x2="140.0" y1="198.7" y2="203.7" stroke="#a3a3a8" stroke-width="1"/><text x="140.0" y="216.0" text-anchor="middle" class="al">14:45</text><line x1="273.95" x2="273.95" y1="198.7" y2="203.7" stroke="#a3a3a8" stroke-width="1"/><text x="273.95" y="216.0" text-anchor="middle" class="al">15:00</text><line x1="407.9" x2="407.9" y1="198.7" y2="203.7" stroke="#a3a3a8" stroke-width="1"/><text x="407.9" y="216.0" text-anchor="middle" class="al">15:15</text><line x1="541.85" x2="541.85" y1="198.7" y2="203.7" stroke="#a3a3a8" stroke-width="1"/><text x="541.85" y="216.0" text-anchor="middle" class="al">15:30</text><polyline fill="none" stroke="#c4e8c0" stroke-width="1.9" stroke-linejoin="miter" points="38.5,198.1 41.0,197.8 49.9,196.9 58.9,196.0 67.8,195.1 76.7,194.3 85.7,193.4 94.6,192.5 103.5,192.1 112.4,191.6 121.4,191.2 130.3,190.7 139.2,190.3 148.2,189.8 157.1,189.4 166.0,189.4 174.9,189.4 183.9,189.4 192.8,189.4 201.7,189.4 210.7,189.4 219.6,189.4 228.5,189.4 237.5,189.4 246.4,189.4 255.3,189.4 264.2,189.4 273.2,189.4 282.1,189.4 291.0,189.4 300.0,189.4 308.9,189.4 317.8,189.4 326.8,189.4 335.7,189.4 344.6,189.4 353.6,189.4 362.5,189.4 371.4,189.4 380.3,189.4 389.3,189.4 398.2,189.4 407.1,189.4 416.1,187.5 425.0,187.5 433.9,187.5 442.8,187.5 451.8,187.5 460.7,187.5 469.6,176.4 478.6,155.9 487.5,135.4 496.4,118.7 505.4,107.5 514.3,101.3 523.2,90.8 532.1,80.9 541.1,77.2"/><polyline fill="none" stroke="#8fd4a6" stroke-width="1.9" stroke-linejoin="miter" points="38.5,198.1 41.0,197.8 49.9,197.1 58.9,196.4 67.8,195.7 76.7,195.0 85.7,194.3 94.6,193.6 103.5,192.9 112.4,192.2 121.4,191.5 130.3,190.9 139.2,190.2 148.2,189.5 157.1,188.8 166.0,188.8 174.9,188.8 183.9,188.8 192.8,188.8 201.7,188.8 210.7,188.8 219.6,188.8 228.5,188.8 237.5,188.8 246.4,188.8 255.3,188.8 264.2,188.8 273.2,188.8 282.1,188.8 291.0,188.8 300.0,188.8 308.9,188.8 317.8,188.8 326.8,188.8 335.7,188.8 344.6,188.8 353.6,188.8 362.5,188.8 371.4,188.8 380.3,188.8 389.3,188.8 398.2,188.8 407.1,188.8 416.1,187.3 425.0,185.9 433.9,184.4 442.8,182.2 451.8,179.9 460.7,177.6 469.6,166.5 478.6,136.7 487.5,116.2 496.4,102.0 505.4,88.9 514.3,83.4 523.2,72.8 532.1,69.1 541.1,69.1"/><polyline fill="none" stroke="#6ec4c1" stroke-width="2.0" stroke-linejoin="miter" points="38.5,198.1 41.0,197.8 49.9,197.1 58.9,196.4 67.8,195.8 76.7,195.1 85.7,194.4 94.6,193.8 103.5,193.1 112.4,192.4 121.4,191.8 130.3,191.1 139.2,190.4 148.2,189.8 157.1,189.1 166.0,189.1 174.9,189.1 183.9,189.1 192.8,189.1 201.7,189.1 210.7,189.1 219.6,189.1 228.5,189.1 237.5,189.1 246.4,189.1 255.3,189.1 264.2,189.1 273.2,189.1 282.1,189.1 291.0,189.1 300.0,189.1 308.9,189.1 317.8,189.1 326.8,189.1 335.7,189.1 344.6,189.1 353.6,189.1 362.5,189.1 371.4,189.1 380.3,189.1 389.3,189.1 398.2,189.1 407.1,189.1 416.1,187.3 425.0,185.6 433.9,183.8 442.8,182.0 451.8,180.1 460.7,178.2 469.6,164.6 478.6,137.3 487.5,118.1 496.4,104.4 505.4,92.0 514.3,86.5 523.2,75.3 532.1,71.6 541.1,71.6"/><polyline fill="none" stroke="#3a94c8" stroke-width="2.0" stroke-linejoin="miter" points="38.5,198.1 41.0,197.8 49.9,197.0 58.9,196.3 67.8,195.6 76.7,194.8 85.7,194.1 94.6,193.3 103.5,192.6 112.4,191.9 121.4,191.1 130.3,190.4 139.2,189.6 148.2,188.9 157.1,188.2 166.0,188.2 174.9,188.2 183.9,188.2 192.8,188.2 201.7,188.2 210.7,188.2 219.6,188.2 228.5,188.2 237.5,188.2 246.4,188.2 255.3,188.2 264.2,188.2 273.2,188.2 282.1,188.2 291.0,188.2 300.0,188.2 308.9,188.2 317.8,188.2 326.8,188.2 335.7,188.2 344.6,188.2 353.6,188.2 362.5,188.2 371.4,188.2 380.3,188.2 389.3,188.2 398.2,188.2 407.1,188.2 416.1,185.1 425.0,183.8 433.9,182.6 442.8,180.1 451.8,178.9 460.7,176.4 469.6,162.1 478.6,137.9 487.5,119.9 496.4,107.5 505.4,95.1 514.3,88.9 523.2,77.8 532.1,74.1 541.1,74.1"/><polyline fill="none" stroke="#0b559f" stroke-width="2.1" stroke-linejoin="miter" points="38.5,198.1 41.0,197.8 49.9,197.2 58.9,196.7 67.8,196.1 76.7,195.5 85.7,195.0 94.6,196.8 103.5,196.5 112.4,196.1 121.4,195.6 130.3,195.1 139.2,194.7 148.2,194.2 157.1,193.7 166.0,193.7 174.9,193.7 183.9,193.7 192.8,193.7 201.7,193.7 210.7,193.7 219.6,193.7 228.5,193.7 237.5,193.7 246.4,193.7 255.3,193.7 264.2,193.7 273.2,193.7 282.1,193.7 291.0,193.7 300.0,193.7 308.9,193.7 317.8,193.7 326.8,193.7 335.7,193.7 344.6,193.7 353.6,193.7 362.5,193.7 371.4,193.7 380.3,193.7 389.3,193.7 398.2,193.7 407.1,193.7 416.1,193.7 425.0,193.7 433.9,193.7 442.8,193.7 451.8,193.7 460.7,193.7 469.6,190.3 478.6,182.6 487.5,172.7 496.4,164.0 505.4,158.4 514.3,154.7 523.2,147.9 532.1,142.9 541.1,140.4"/><line x1="164.5" x2="164.5" y1="33.5" y2="198.7" stroke="#000" stroke-width="2"/></g></svg></div>
</body></html>
